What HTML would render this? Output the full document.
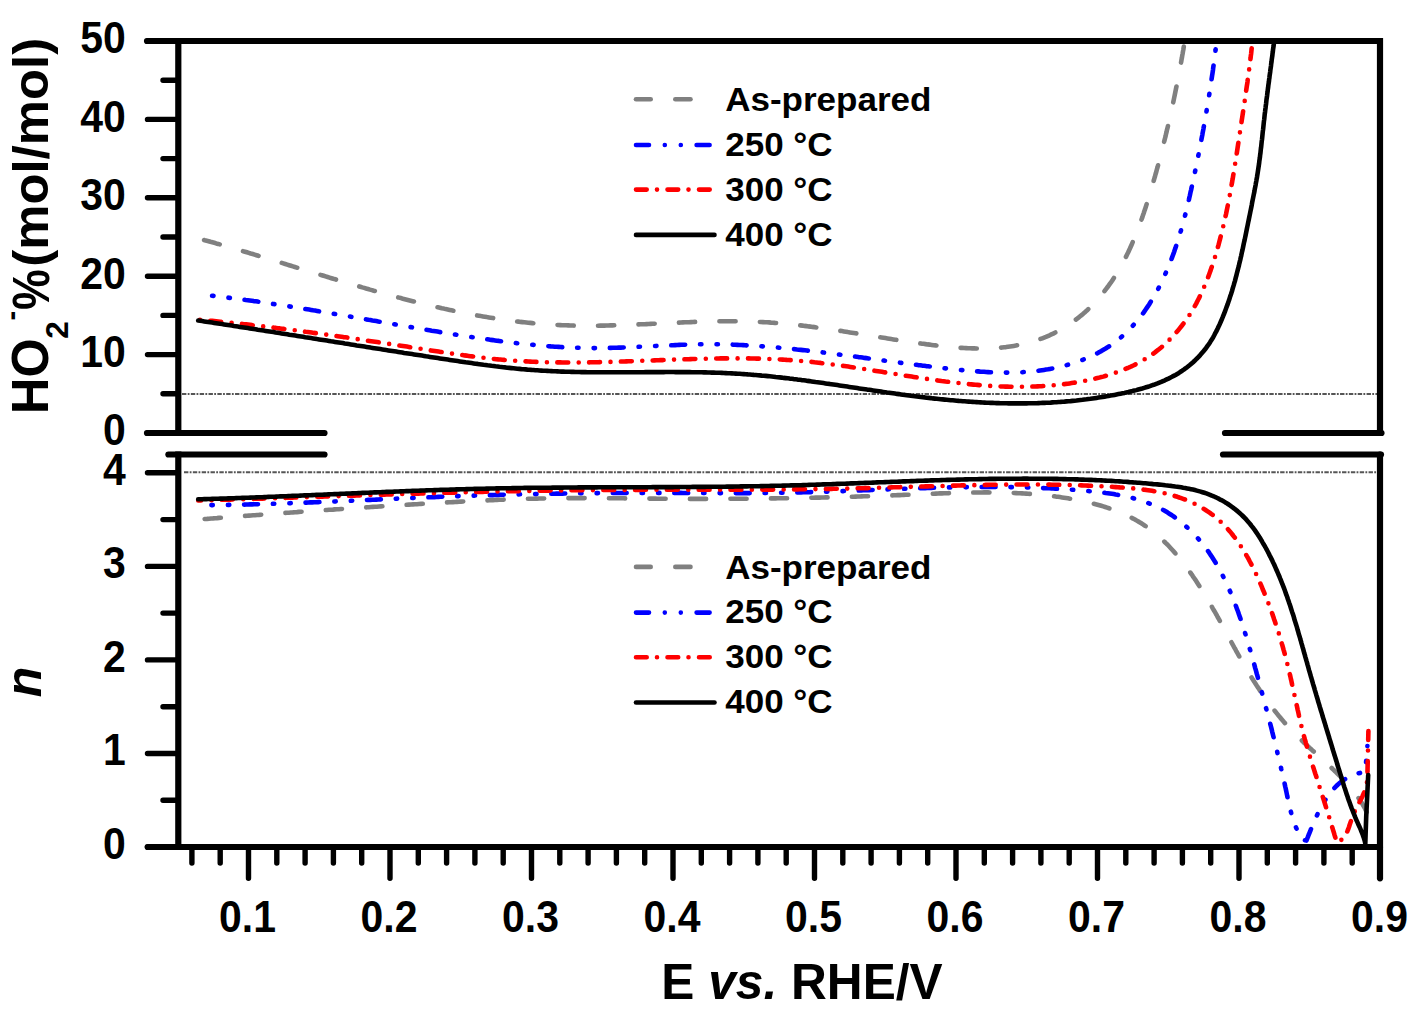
<!DOCTYPE html>
<html><head><meta charset="utf-8"><title>HO2- and n vs E</title>
<style>html,body{margin:0;padding:0;background:#fff;}body{width:1425px;height:1019px;overflow:hidden;font-family:"Liberation Sans",sans-serif;}svg{display:block;}</style>
</head><body>
<svg width="1425" height="1019" viewBox="0 0 1425 1019"><defs><clipPath id="ct"><rect x="178.3" y="41.0" width="1201.7" height="392.0"/></clipPath>
<clipPath id="cb"><rect x="178.3" y="454.5" width="1201.7" height="392.5"/></clipPath></defs>
<line x1="182" y1="393.9" x2="1377" y2="393.9" stroke="#555" stroke-width="2" stroke-dasharray="4.4 1.3 1.8 1.34"/>
<line x1="184" y1="472.2" x2="1377" y2="472.2" stroke="#555" stroke-width="2" stroke-dasharray="4.4 1.3 1.8 1.34"/>
<g clip-path="url(#ct)">
<path d="M199.0 238.6 L200.9 239.1 L202.8 239.6 L204.7 240.2 L206.7 240.7 L208.6 241.2 L210.5 241.8 L212.4 242.3 L214.3 242.8 L216.2 243.4 L218.2 243.9 L220.1 244.5 L222.0 245.0 L223.9 245.6 L225.8 246.1 L227.7 246.7 L229.7 247.2 L231.6 247.8 L233.5 248.4 L235.4 248.9 L237.3 249.5 L239.2 250.0 L241.2 250.6 L243.1 251.2 L245.0 251.7 L246.9 252.3 L248.8 252.9 L250.7 253.5 L252.7 254.0 L254.6 254.6 L256.5 255.2 L258.4 255.8 L260.3 256.4 L262.2 256.9 L264.2 257.5 L266.1 258.1 L268.0 258.7 L269.9 259.3 L271.8 259.9 L273.8 260.5 L275.7 261.1 L277.6 261.6 L279.5 262.2 L281.4 262.8 L283.3 263.4 L285.3 264.0 L287.2 264.6 L289.1 265.2 L291.0 265.8 L292.9 266.4 L294.9 267.0 L296.8 267.6 L298.7 268.1 L300.6 268.7 L302.6 269.3 L304.5 269.9 L306.4 270.5 L308.3 271.1 L310.2 271.7 L312.2 272.3 L314.1 272.9 L316.0 273.5 L317.9 274.1 L319.9 274.7 L321.8 275.2 L323.7 275.8 L325.6 276.4 L327.6 277.0 L329.5 277.6 L331.4 278.2 L333.3 278.8 L335.3 279.3 L337.2 279.9 L339.1 280.5 L341.0 281.1 L343.0 281.7 L344.9 282.2 L346.8 282.8 L348.7 283.4 L350.7 284.0 L352.6 284.5 L354.5 285.1 L356.5 285.7 L358.4 286.2 L360.3 286.8 L362.3 287.4 L364.2 287.9 L366.1 288.5 L368.0 289.0 L370.0 289.6 L371.9 290.1 L373.8 290.7 L375.8 291.2 L377.7 291.8 L379.7 292.3 L381.6 292.9 L383.5 293.4 L385.5 293.9 L387.4 294.5 L389.3 295.0 L391.3 295.5 L393.2 296.1 L395.1 296.6 L397.1 297.1 L399.0 297.6 L401.0 298.1 L402.9 298.7 L404.8 299.2 L406.8 299.7 L408.7 300.2 L410.7 300.7 L412.6 301.2 L414.6 301.7 L416.5 302.2 L418.4 302.6 L420.4 303.1 L422.3 303.6 L424.3 304.1 L426.2 304.5 L428.2 305.0 L430.1 305.5 L432.1 305.9 L434.0 306.4 L436.0 306.9 L437.9 307.3 L439.9 307.7 L441.8 308.2 L443.8 308.6 L445.7 309.1 L447.7 309.5 L449.6 309.9 L451.6 310.3 L453.5 310.7 L455.5 311.2 L457.4 311.6 L459.4 312.0 L461.4 312.4 L463.3 312.8 L465.3 313.1 L467.2 313.5 L469.2 313.9 L471.2 314.3 L473.1 314.6 L475.1 315.0 L477.0 315.4 L479.0 315.7 L481.0 316.1 L482.9 316.4 L484.9 316.7 L486.9 317.1 L488.8 317.4 L490.8 317.7 L492.8 318.0 L494.7 318.4 L496.7 318.7 L498.7 319.0 L500.7 319.3 L502.6 319.5 L504.6 319.8 L506.6 320.1 L508.6 320.4 L510.5 320.6 L512.5 320.9 L514.5 321.1 L516.5 321.4 L518.4 321.6 L520.4 321.9 L522.4 322.1 L524.4 322.3 L526.4 322.5 L528.3 322.7 L530.3 322.9 L532.3 323.1 L534.3 323.3 L536.3 323.5 L538.3 323.7 L540.3 323.8 L542.2 324.0 L544.2 324.1 L546.2 324.3 L548.2 324.4 L550.2 324.6 L552.2 324.7 L554.2 324.8 L556.2 324.9 L558.2 325.0 L560.2 325.1 L562.2 325.2 L564.2 325.3 L566.2 325.3 L568.2 325.4 L570.2 325.5 L572.2 325.5 L574.2 325.6 L576.2 325.6 L578.2 325.6 L580.2 325.7 L582.2 325.7 L584.2 325.7 L586.2 325.7 L588.2 325.7 L590.2 325.7 L592.2 325.7 L594.2 325.7 L596.3 325.7 L598.3 325.7 L600.3 325.6 L602.3 325.6 L604.3 325.6 L606.3 325.5 L608.3 325.5 L610.3 325.4 L612.4 325.4 L614.4 325.3 L616.4 325.3 L618.4 325.2 L620.4 325.1 L622.4 325.1 L624.4 325.0 L626.5 324.9 L628.5 324.8 L630.5 324.8 L632.5 324.7 L634.5 324.6 L636.5 324.5 L638.6 324.4 L640.6 324.3 L642.6 324.3 L644.6 324.2 L646.6 324.1 L648.6 324.0 L650.7 323.9 L652.7 323.8 L654.7 323.7 L656.7 323.6 L658.7 323.5 L660.8 323.4 L662.8 323.3 L664.8 323.2 L666.8 323.1 L668.8 323.0 L670.8 322.9 L672.9 322.8 L674.9 322.8 L676.9 322.7 L678.9 322.6 L680.9 322.5 L682.9 322.4 L684.9 322.3 L687.0 322.2 L689.0 322.2 L691.0 322.1 L693.0 322.0 L695.0 321.9 L697.0 321.9 L699.0 321.8 L701.0 321.7 L703.1 321.7 L705.1 321.6 L707.1 321.6 L709.1 321.5 L711.1 321.5 L713.1 321.4 L715.1 321.4 L717.1 321.3 L719.1 321.3 L721.1 321.3 L723.1 321.3 L725.1 321.3 L727.1 321.2 L729.1 321.2 L731.1 321.2 L733.1 321.2 L735.1 321.3 L737.1 321.3 L739.1 321.3 L741.1 321.3 L743.1 321.4 L745.1 321.4 L747.1 321.4 L749.1 321.5 L751.1 321.6 L753.1 321.6 L755.1 321.7 L757.1 321.8 L759.1 321.9 L761.0 322.0 L763.0 322.1 L765.0 322.2 L767.0 322.3 L769.0 322.4 L771.0 322.6 L772.9 322.7 L774.9 322.9 L776.9 323.0 L778.9 323.2 L780.8 323.4 L782.8 323.5 L784.8 323.7 L786.8 323.9 L788.7 324.1 L790.7 324.3 L792.7 324.5 L794.7 324.7 L796.6 324.9 L798.6 325.2 L800.6 325.4 L802.5 325.6 L804.5 325.9 L806.5 326.1 L808.5 326.4 L810.4 326.6 L812.4 326.9 L814.4 327.1 L816.3 327.4 L818.3 327.7 L820.3 327.9 L822.2 328.2 L824.2 328.5 L826.2 328.8 L828.1 329.1 L830.1 329.3 L832.1 329.6 L834.1 329.9 L836.0 330.2 L838.0 330.5 L840.0 330.8 L841.9 331.1 L843.9 331.4 L845.9 331.7 L847.8 332.1 L849.8 332.4 L851.8 332.7 L853.8 333.0 L855.7 333.3 L857.7 333.6 L859.7 333.9 L861.7 334.3 L863.6 334.6 L865.6 334.9 L867.6 335.2 L869.6 335.5 L871.6 335.9 L873.5 336.2 L875.5 336.5 L877.5 336.8 L879.5 337.2 L881.5 337.5 L883.5 337.8 L885.5 338.1 L887.5 338.4 L889.4 338.7 L891.4 339.1 L893.4 339.4 L895.4 339.7 L897.4 340.0 L899.4 340.3 L901.4 340.6 L903.4 340.9 L905.4 341.2 L907.4 341.5 L909.4 341.8 L911.4 342.1 L913.5 342.4 L915.5 342.7 L917.5 343.0 L919.5 343.3 L921.5 343.6 L923.5 343.8 L925.6 344.1 L927.6 344.4 L929.6 344.6 L931.6 344.9 L933.7 345.2 L935.7 345.4 L937.7 345.6 L939.7 345.9 L941.8 346.1 L943.8 346.3 L945.8 346.5 L947.9 346.7 L949.9 346.9 L951.9 347.1 L954.0 347.3 L956.0 347.5 L958.0 347.6 L960.0 347.8 L962.1 347.9 L964.1 348.0 L966.1 348.1 L968.1 348.2 L970.1 348.3 L972.2 348.4 L974.2 348.4 L976.2 348.5 L978.2 348.5 L980.2 348.5 L982.2 348.5 L984.2 348.5 L986.2 348.4 L988.2 348.4 L990.2 348.3 L992.2 348.2 L994.2 348.1 L996.2 348.0 L998.2 347.8 L1000.1 347.7 L1002.1 347.5 L1004.1 347.3 L1006.0 347.1 L1008.0 346.8 L1010.0 346.5 L1011.9 346.2 L1013.8 345.9 L1015.8 345.6 L1017.7 345.2 L1019.6 344.9 L1021.6 344.5 L1023.5 344.0 L1025.4 343.6 L1027.3 343.1 L1029.2 342.6 L1031.1 342.1 L1033.0 341.5 L1034.8 340.9 L1036.7 340.3 L1038.6 339.7 L1040.4 339.0 L1042.3 338.3 L1044.1 337.6 L1045.9 336.9 L1047.8 336.1 L1049.6 335.3 L1051.4 334.4 L1053.2 333.6 L1054.9 332.7 L1056.7 331.8 L1058.5 330.8 L1060.2 329.9 L1062.0 328.9 L1063.7 327.9 L1065.4 326.8 L1067.1 325.8 L1068.8 324.7 L1070.4 323.6 L1072.1 322.4 L1073.7 321.2 L1075.3 320.1 L1076.9 318.8 L1078.5 317.6 L1080.1 316.3 L1081.6 315.1 L1083.2 313.8 L1084.7 312.4 L1086.2 311.1 L1087.7 309.7 L1089.1 308.3 L1090.6 306.9 L1092.0 305.5 L1093.4 304.0 L1094.8 302.6 L1096.2 301.1 L1097.5 299.6 L1098.8 298.1 L1100.1 296.5 L1101.4 295.0 L1102.7 293.4 L1104.0 291.8 L1105.2 290.2 L1106.4 288.6 L1107.6 287.0 L1108.8 285.4 L1110.0 283.7 L1111.2 282.1 L1112.3 280.4 L1113.4 278.7 L1114.5 277.0 L1115.6 275.3 L1116.6 273.6 L1117.7 271.9 L1118.7 270.2 L1119.7 268.5 L1120.7 266.7 L1121.7 265.0 L1122.6 263.2 L1123.6 261.4 L1124.5 259.7 L1125.4 257.9 L1126.3 256.1 L1127.2 254.3 L1128.1 252.5 L1128.9 250.7 L1129.8 248.8 L1130.6 247.0 L1131.4 245.2 L1132.2 243.3 L1133.0 241.5 L1133.8 239.6 L1134.6 237.8 L1135.3 235.9 L1136.1 234.1 L1136.8 232.2 L1137.6 230.3 L1138.3 228.4 L1139.0 226.5 L1139.7 224.6 L1140.4 222.8 L1141.0 220.9 L1141.7 219.0 L1142.4 217.1 L1143.0 215.1 L1143.7 213.2 L1144.3 211.3 L1145.0 209.4 L1145.6 207.5 L1146.2 205.6 L1146.8 203.7 L1147.4 201.7 L1148.0 199.8 L1148.6 197.9 L1149.2 196.0 L1149.8 194.0 L1150.4 192.1 L1151.0 190.2 L1151.5 188.2 L1152.1 186.3 L1152.7 184.4 L1153.2 182.5 L1153.8 180.5 L1154.3 178.6 L1154.9 176.7 L1155.4 174.7 L1156.0 172.8 L1156.5 170.9 L1157.0 169.0 L1157.6 167.0 L1158.1 165.1 L1158.6 163.2 L1159.1 161.2 L1159.7 159.3 L1160.2 157.4 L1160.7 155.4 L1161.2 153.5 L1161.7 151.6 L1162.2 149.6 L1162.7 147.7 L1163.2 145.8 L1163.6 143.8 L1164.1 141.9 L1164.6 139.9 L1165.1 138.0 L1165.6 136.1 L1166.0 134.1 L1166.5 132.2 L1166.9 130.2 L1167.4 128.3 L1167.9 126.4 L1168.3 124.4 L1168.8 122.5 L1169.2 120.5 L1169.7 118.6 L1170.1 116.6 L1170.5 114.7 L1171.0 112.7 L1171.4 110.8 L1171.8 108.9 L1172.2 106.9 L1172.7 104.9 L1173.1 103.0 L1173.5 101.0 L1173.9 99.1 L1174.3 97.1 L1174.7 95.2 L1175.1 93.2 L1175.5 91.3 L1175.9 89.3 L1176.3 87.3 L1176.7 85.4 L1177.1 83.4 L1177.5 81.5 L1177.9 79.5 L1178.2 77.5 L1178.6 75.6 L1179.0 73.6 L1179.4 71.6 L1179.7 69.7 L1180.1 67.7 L1180.5 65.7 L1180.8 63.8 L1181.2 61.8 L1181.5 59.8 L1181.9 57.8 L1182.2 55.8 L1182.6 53.9 L1182.9 51.9 L1183.3 49.9 L1183.6 47.9 L1183.9 45.9 L1184.3 44.0 L1184.6 42.0 L1184.9 40.0 L1185.3 38.0 L1185.6 36.0" stroke="#808080" stroke-width="4.6" fill="none" stroke-linecap="round" stroke-linejoin="round" stroke-dasharray="16.2 24.3" stroke-dashoffset="-5.3"/>
<path d="M198.0 294.2 L200.0 294.4 L202.0 294.6 L204.0 294.8 L206.0 295.0 L208.0 295.3 L210.0 295.5 L212.0 295.7 L214.0 295.9 L215.9 296.2 L217.9 296.4 L219.9 296.6 L221.9 296.9 L223.9 297.1 L225.9 297.4 L227.9 297.6 L229.9 297.9 L231.9 298.1 L233.8 298.4 L235.8 298.6 L237.8 298.9 L239.8 299.1 L241.8 299.4 L243.8 299.7 L245.8 300.0 L247.8 300.2 L249.7 300.5 L251.7 300.8 L253.7 301.1 L255.7 301.3 L257.7 301.6 L259.7 301.9 L261.6 302.2 L263.6 302.5 L265.6 302.8 L267.6 303.1 L269.6 303.4 L271.6 303.7 L273.5 304.0 L275.5 304.3 L277.5 304.6 L279.5 304.9 L281.5 305.2 L283.4 305.5 L285.4 305.8 L287.4 306.1 L289.4 306.4 L291.4 306.7 L293.3 307.0 L295.3 307.4 L297.3 307.7 L299.3 308.0 L301.2 308.3 L303.2 308.6 L305.2 309.0 L307.2 309.3 L309.2 309.6 L311.1 309.9 L313.1 310.3 L315.1 310.6 L317.1 310.9 L319.0 311.3 L321.0 311.6 L323.0 311.9 L325.0 312.3 L326.9 312.6 L328.9 312.9 L330.9 313.3 L332.9 313.6 L334.8 313.9 L336.8 314.3 L338.8 314.6 L340.8 315.0 L342.7 315.3 L344.7 315.6 L346.7 316.0 L348.7 316.3 L350.6 316.7 L352.6 317.0 L354.6 317.4 L356.6 317.7 L358.5 318.0 L360.5 318.4 L362.5 318.7 L364.5 319.1 L366.4 319.4 L368.4 319.8 L370.4 320.1 L372.4 320.5 L374.3 320.8 L376.3 321.1 L378.3 321.5 L380.2 321.8 L382.2 322.2 L384.2 322.5 L386.2 322.9 L388.1 323.2 L390.1 323.6 L392.1 323.9 L394.1 324.2 L396.0 324.6 L398.0 324.9 L400.0 325.3 L402.0 325.6 L403.9 326.0 L405.9 326.3 L407.9 326.6 L409.9 327.0 L411.8 327.3 L413.8 327.7 L415.8 328.0 L417.8 328.3 L419.7 328.7 L421.7 329.0 L423.7 329.3 L425.7 329.7 L427.6 330.0 L429.6 330.3 L431.6 330.7 L433.6 331.0 L435.6 331.3 L437.5 331.6 L439.5 332.0 L441.5 332.3 L443.5 332.6 L445.4 332.9 L447.4 333.2 L449.4 333.6 L451.4 333.9 L453.4 334.2 L455.3 334.5 L457.3 334.8 L459.3 335.1 L461.3 335.4 L463.2 335.8 L465.2 336.1 L467.2 336.4 L469.2 336.7 L471.2 337.0 L473.1 337.3 L475.1 337.6 L477.1 337.9 L479.1 338.2 L481.1 338.4 L483.1 338.7 L485.0 339.0 L487.0 339.3 L489.0 339.6 L491.0 339.9 L493.0 340.1 L495.0 340.4 L496.9 340.7 L498.9 340.9 L500.9 341.2 L502.9 341.4 L504.9 341.7 L506.9 342.0 L508.9 342.2 L510.8 342.4 L512.8 342.7 L514.8 342.9 L516.8 343.2 L518.8 343.4 L520.8 343.6 L522.8 343.8 L524.8 344.0 L526.8 344.2 L528.8 344.4 L530.7 344.7 L532.7 344.8 L534.7 345.0 L536.7 345.2 L538.7 345.4 L540.7 345.6 L542.7 345.8 L544.7 345.9 L546.7 346.1 L548.7 346.2 L550.7 346.4 L552.7 346.5 L554.7 346.7 L556.7 346.8 L558.7 346.9 L560.7 347.0 L562.7 347.2 L564.7 347.3 L566.7 347.4 L568.7 347.5 L570.7 347.6 L572.7 347.6 L574.7 347.7 L576.7 347.8 L578.7 347.8 L580.7 347.9 L582.7 347.9 L584.7 348.0 L586.7 348.0 L588.7 348.0 L590.7 348.1 L592.7 348.1 L594.7 348.1 L596.7 348.1 L598.7 348.1 L600.7 348.0 L602.7 348.0 L604.7 348.0 L606.7 348.0 L608.8 347.9 L610.8 347.9 L612.8 347.8 L614.8 347.8 L616.8 347.7 L618.8 347.6 L620.8 347.6 L622.8 347.5 L624.8 347.4 L626.9 347.3 L628.9 347.3 L630.9 347.2 L632.9 347.1 L634.9 347.0 L636.9 346.9 L638.9 346.8 L640.9 346.7 L643.0 346.6 L645.0 346.5 L647.0 346.4 L649.0 346.3 L651.0 346.2 L653.0 346.1 L655.0 346.0 L657.0 345.9 L659.1 345.8 L661.1 345.7 L663.1 345.6 L665.1 345.5 L667.1 345.4 L669.1 345.3 L671.1 345.3 L673.1 345.2 L675.2 345.1 L677.2 345.0 L679.2 344.9 L681.2 344.8 L683.2 344.8 L685.2 344.7 L687.2 344.6 L689.2 344.6 L691.2 344.5 L693.2 344.5 L695.2 344.4 L697.2 344.4 L699.3 344.3 L701.3 344.3 L703.3 344.3 L705.3 344.3 L707.3 344.3 L709.3 344.3 L711.3 344.3 L713.3 344.3 L715.3 344.3 L717.3 344.3 L719.3 344.3 L721.3 344.4 L723.3 344.4 L725.3 344.5 L727.3 344.5 L729.3 344.6 L731.3 344.6 L733.3 344.7 L735.3 344.8 L737.3 344.9 L739.3 345.0 L741.3 345.0 L743.2 345.1 L745.2 345.2 L747.2 345.4 L749.2 345.5 L751.2 345.6 L753.2 345.7 L755.2 345.8 L757.2 346.0 L759.2 346.1 L761.2 346.2 L763.2 346.4 L765.2 346.5 L767.1 346.7 L769.1 346.8 L771.1 347.0 L773.1 347.2 L775.1 347.3 L777.1 347.5 L779.1 347.7 L781.1 347.9 L783.1 348.1 L785.0 348.2 L787.0 348.4 L789.0 348.6 L791.0 348.8 L793.0 349.0 L795.0 349.2 L797.0 349.5 L798.9 349.7 L800.9 349.9 L802.9 350.1 L804.9 350.3 L806.9 350.5 L808.9 350.8 L810.9 351.0 L812.8 351.2 L814.8 351.5 L816.8 351.7 L818.8 351.9 L820.8 352.2 L822.8 352.4 L824.8 352.7 L826.7 352.9 L828.7 353.2 L830.7 353.4 L832.7 353.7 L834.7 353.9 L836.7 354.2 L838.6 354.4 L840.6 354.7 L842.6 354.9 L844.6 355.2 L846.6 355.5 L848.6 355.7 L850.5 356.0 L852.5 356.3 L854.5 356.5 L856.5 356.8 L858.5 357.1 L860.5 357.3 L862.5 357.6 L864.4 357.9 L866.4 358.1 L868.4 358.4 L870.4 358.7 L872.4 359.0 L874.4 359.2 L876.4 359.5 L878.3 359.8 L880.3 360.0 L882.3 360.3 L884.3 360.6 L886.3 360.9 L888.3 361.1 L890.3 361.4 L892.2 361.7 L894.2 361.9 L896.2 362.2 L898.2 362.5 L900.2 362.7 L902.2 363.0 L904.2 363.3 L906.2 363.5 L908.2 363.8 L910.2 364.0 L912.1 364.3 L914.1 364.6 L916.1 364.8 L918.1 365.1 L920.1 365.3 L922.1 365.6 L924.1 365.8 L926.1 366.1 L928.1 366.3 L930.1 366.5 L932.1 366.8 L934.1 367.0 L936.1 367.3 L938.1 367.5 L940.1 367.7 L942.0 368.0 L944.0 368.2 L946.0 368.4 L948.0 368.6 L950.0 368.8 L952.0 369.1 L954.0 369.3 L956.0 369.5 L958.0 369.7 L960.0 369.9 L962.0 370.1 L964.0 370.3 L966.0 370.5 L968.1 370.6 L970.1 370.8 L972.1 371.0 L974.1 371.1 L976.1 371.3 L978.1 371.4 L980.1 371.6 L982.1 371.7 L984.1 371.8 L986.1 372.0 L988.1 372.1 L990.1 372.2 L992.1 372.3 L994.1 372.3 L996.1 372.4 L998.1 372.5 L1000.1 372.5 L1002.1 372.5 L1004.1 372.6 L1006.1 372.6 L1008.1 372.6 L1010.1 372.5 L1012.1 372.5 L1014.1 372.5 L1016.1 372.4 L1018.1 372.3 L1020.1 372.3 L1022.1 372.2 L1024.1 372.0 L1026.1 371.9 L1028.1 371.8 L1030.1 371.6 L1032.1 371.4 L1034.1 371.2 L1036.1 371.0 L1038.0 370.8 L1040.0 370.5 L1042.0 370.2 L1044.0 369.9 L1046.0 369.6 L1048.0 369.3 L1050.0 368.9 L1051.9 368.6 L1053.9 368.2 L1055.9 367.8 L1057.9 367.3 L1059.8 366.9 L1061.8 366.4 L1063.8 365.9 L1065.7 365.4 L1067.7 364.8 L1069.7 364.3 L1071.6 363.7 L1073.5 363.1 L1075.5 362.4 L1077.4 361.8 L1079.3 361.1 L1081.2 360.4 L1083.1 359.7 L1085.0 358.9 L1086.8 358.1 L1088.7 357.3 L1090.5 356.5 L1092.4 355.7 L1094.2 354.8 L1096.0 353.9 L1097.8 353.0 L1099.5 352.0 L1101.3 351.1 L1103.0 350.1 L1104.7 349.1 L1106.4 348.0 L1108.1 346.9 L1109.8 345.9 L1111.4 344.7 L1113.0 343.6 L1114.6 342.4 L1116.2 341.2 L1117.7 340.0 L1119.3 338.8 L1120.8 337.5 L1122.2 336.2 L1123.7 334.9 L1125.2 333.6 L1126.6 332.2 L1128.0 330.8 L1129.4 329.4 L1130.8 328.0 L1132.1 326.6 L1133.4 325.1 L1134.7 323.6 L1136.0 322.1 L1137.3 320.6 L1138.6 319.1 L1139.8 317.5 L1141.0 315.9 L1142.2 314.4 L1143.4 312.8 L1144.6 311.1 L1145.7 309.5 L1146.8 307.9 L1148.0 306.2 L1149.1 304.5 L1150.1 302.8 L1151.2 301.1 L1152.2 299.4 L1153.3 297.7 L1154.3 295.9 L1155.3 294.2 L1156.3 292.4 L1157.2 290.6 L1158.2 288.9 L1159.1 287.1 L1160.0 285.3 L1160.9 283.5 L1161.8 281.6 L1162.7 279.8 L1163.6 278.0 L1164.4 276.1 L1165.2 274.3 L1166.0 272.4 L1166.8 270.6 L1167.6 268.7 L1168.4 266.8 L1169.2 264.9 L1169.9 263.1 L1170.7 261.2 L1171.4 259.3 L1172.1 257.4 L1172.8 255.5 L1173.5 253.6 L1174.2 251.7 L1174.8 249.8 L1175.5 247.9 L1176.1 246.0 L1176.7 244.1 L1177.4 242.2 L1178.0 240.3 L1178.6 238.4 L1179.2 236.4 L1179.7 234.5 L1180.3 232.6 L1180.9 230.7 L1181.4 228.8 L1182.0 226.8 L1182.5 224.9 L1183.0 223.0 L1183.6 221.1 L1184.1 219.1 L1184.6 217.2 L1185.1 215.3 L1185.6 213.3 L1186.1 211.4 L1186.5 209.4 L1187.0 207.5 L1187.5 205.6 L1187.9 203.6 L1188.4 201.7 L1188.9 199.7 L1189.3 197.8 L1189.8 195.8 L1190.2 193.9 L1190.6 191.9 L1191.1 190.0 L1191.5 188.0 L1191.9 186.1 L1192.4 184.1 L1192.8 182.2 L1193.2 180.2 L1193.6 178.3 L1194.0 176.3 L1194.4 174.3 L1194.9 172.4 L1195.3 170.4 L1195.7 168.5 L1196.1 166.5 L1196.5 164.5 L1196.9 162.6 L1197.3 160.6 L1197.7 158.7 L1198.1 156.7 L1198.5 154.7 L1198.9 152.8 L1199.3 150.8 L1199.6 148.8 L1200.0 146.9 L1200.4 144.9 L1200.8 142.9 L1201.2 141.0 L1201.5 139.0 L1201.9 137.0 L1202.3 135.1 L1202.6 133.1 L1203.0 131.1 L1203.4 129.1 L1203.7 127.2 L1204.1 125.2 L1204.4 123.2 L1204.8 121.3 L1205.1 119.3 L1205.5 117.3 L1205.8 115.3 L1206.2 113.4 L1206.5 111.4 L1206.8 109.4 L1207.2 107.4 L1207.5 105.4 L1207.8 103.5 L1208.2 101.5 L1208.5 99.5 L1208.8 97.5 L1209.1 95.6 L1209.4 93.6 L1209.7 91.6 L1210.0 89.6 L1210.3 87.6 L1210.7 85.6 L1211.0 83.7 L1211.2 81.7 L1211.5 79.7 L1211.8 77.7 L1212.1 75.7 L1212.4 73.8 L1212.7 71.8 L1213.0 69.8 L1213.2 67.8 L1213.5 65.8 L1213.8 63.8 L1214.0 61.8 L1214.3 59.9 L1214.6 57.9 L1214.8 55.9 L1215.1 53.9 L1215.3 51.9 L1215.6 49.9 L1215.8 47.9 L1216.0 45.9 L1216.3 44.0 L1216.5 42.0 L1216.7 40.0 L1217.0 38.0 L1217.2 36.0" stroke="#0000ff" stroke-width="4.6" fill="none" stroke-linecap="round" stroke-linejoin="round" stroke-dasharray="13.9 14.9 1.4 15.1 1.4 14.8" stroke-dashoffset="14.6"/>
<path d="M198.2 319.6 L200.2 319.8 L202.2 320.0 L204.2 320.1 L206.2 320.3 L208.2 320.5 L210.2 320.7 L212.2 320.9 L214.2 321.1 L216.2 321.3 L218.2 321.5 L220.2 321.7 L222.2 321.9 L224.2 322.1 L226.2 322.3 L228.2 322.5 L230.2 322.7 L232.2 322.9 L234.1 323.1 L236.1 323.3 L238.1 323.5 L240.1 323.7 L242.1 323.9 L244.1 324.2 L246.1 324.4 L248.1 324.6 L250.1 324.8 L252.1 325.1 L254.1 325.3 L256.1 325.5 L258.0 325.8 L260.0 326.0 L262.0 326.2 L264.0 326.5 L266.0 326.7 L268.0 326.9 L270.0 327.2 L272.0 327.4 L274.0 327.7 L275.9 327.9 L277.9 328.2 L279.9 328.4 L281.9 328.7 L283.9 328.9 L285.9 329.2 L287.9 329.4 L289.9 329.7 L291.8 329.9 L293.8 330.2 L295.8 330.4 L297.8 330.7 L299.8 331.0 L301.8 331.2 L303.8 331.5 L305.7 331.8 L307.7 332.0 L309.7 332.3 L311.7 332.6 L313.7 332.9 L315.7 333.1 L317.6 333.4 L319.6 333.7 L321.6 333.9 L323.6 334.2 L325.6 334.5 L327.6 334.8 L329.5 335.1 L331.5 335.3 L333.5 335.6 L335.5 335.9 L337.5 336.2 L339.5 336.5 L341.4 336.8 L343.4 337.1 L345.4 337.3 L347.4 337.6 L349.4 337.9 L351.4 338.2 L353.3 338.5 L355.3 338.8 L357.3 339.1 L359.3 339.4 L361.3 339.7 L363.2 340.0 L365.2 340.3 L367.2 340.6 L369.2 340.9 L371.2 341.2 L373.2 341.5 L375.1 341.8 L377.1 342.1 L379.1 342.4 L381.1 342.7 L383.1 343.0 L385.1 343.3 L387.0 343.6 L389.0 343.9 L391.0 344.2 L393.0 344.5 L395.0 344.8 L397.0 345.1 L398.9 345.4 L400.9 345.7 L402.9 346.0 L404.9 346.3 L406.9 346.6 L408.9 346.9 L410.8 347.3 L412.8 347.6 L414.8 347.9 L416.8 348.2 L418.8 348.5 L420.8 348.8 L422.7 349.1 L424.7 349.4 L426.7 349.7 L428.7 350.0 L430.7 350.4 L432.7 350.7 L434.7 351.0 L436.6 351.3 L438.6 351.6 L440.6 351.9 L442.6 352.2 L444.6 352.5 L446.6 352.8 L448.6 353.1 L450.6 353.4 L452.5 353.7 L454.5 354.0 L456.5 354.2 L458.5 354.5 L460.5 354.8 L462.5 355.1 L464.5 355.4 L466.5 355.6 L468.5 355.9 L470.4 356.2 L472.4 356.4 L474.4 356.7 L476.4 356.9 L478.4 357.2 L480.4 357.4 L482.4 357.7 L484.4 357.9 L486.4 358.1 L488.4 358.3 L490.4 358.6 L492.3 358.8 L494.3 359.0 L496.3 359.2 L498.3 359.4 L500.3 359.5 L502.3 359.7 L504.3 359.9 L506.3 360.1 L508.3 360.2 L510.3 360.4 L512.3 360.5 L514.3 360.7 L516.3 360.8 L518.3 360.9 L520.3 361.1 L522.3 361.2 L524.3 361.3 L526.3 361.4 L528.3 361.5 L530.2 361.6 L532.2 361.7 L534.2 361.8 L536.2 361.9 L538.2 361.9 L540.2 362.0 L542.2 362.1 L544.2 362.1 L546.2 362.2 L548.2 362.2 L550.2 362.3 L552.2 362.3 L554.2 362.4 L556.2 362.4 L558.2 362.4 L560.2 362.4 L562.2 362.5 L564.2 362.5 L566.2 362.5 L568.2 362.5 L570.2 362.5 L572.2 362.5 L574.2 362.5 L576.2 362.5 L578.2 362.5 L580.2 362.5 L582.3 362.4 L584.3 362.4 L586.3 362.4 L588.3 362.4 L590.3 362.3 L592.3 362.3 L594.3 362.3 L596.3 362.2 L598.3 362.2 L600.3 362.1 L602.3 362.1 L604.3 362.1 L606.3 362.0 L608.3 362.0 L610.3 361.9 L612.3 361.8 L614.3 361.8 L616.3 361.7 L618.3 361.7 L620.3 361.6 L622.3 361.5 L624.3 361.5 L626.4 361.4 L628.4 361.3 L630.4 361.3 L632.4 361.2 L634.4 361.1 L636.4 361.1 L638.4 361.0 L640.4 360.9 L642.4 360.8 L644.4 360.8 L646.4 360.7 L648.4 360.6 L650.4 360.5 L652.4 360.5 L654.5 360.4 L656.5 360.3 L658.5 360.2 L660.5 360.1 L662.5 360.1 L664.5 360.0 L666.5 359.9 L668.5 359.8 L670.5 359.8 L672.5 359.7 L674.5 359.6 L676.5 359.6 L678.5 359.5 L680.5 359.4 L682.6 359.4 L684.6 359.3 L686.6 359.2 L688.6 359.2 L690.6 359.1 L692.6 359.0 L694.6 359.0 L696.6 358.9 L698.6 358.9 L700.6 358.8 L702.6 358.8 L704.6 358.7 L706.6 358.7 L708.6 358.6 L710.6 358.6 L712.6 358.6 L714.7 358.5 L716.7 358.5 L718.7 358.5 L720.7 358.4 L722.7 358.4 L724.7 358.4 L726.7 358.4 L728.7 358.4 L730.7 358.4 L732.7 358.4 L734.7 358.3 L736.7 358.4 L738.7 358.4 L740.7 358.4 L742.7 358.4 L744.7 358.4 L746.7 358.4 L748.7 358.4 L750.7 358.5 L752.7 358.5 L754.7 358.5 L756.7 358.6 L758.7 358.6 L760.7 358.7 L762.7 358.7 L764.7 358.8 L766.7 358.9 L768.7 359.0 L770.7 359.0 L772.7 359.1 L774.7 359.2 L776.7 359.3 L778.7 359.4 L780.7 359.5 L782.7 359.6 L784.7 359.7 L786.7 359.9 L788.7 360.0 L790.7 360.1 L792.6 360.3 L794.6 360.4 L796.6 360.6 L798.6 360.7 L800.6 360.9 L802.6 361.1 L804.6 361.3 L806.6 361.4 L808.6 361.6 L810.6 361.8 L812.5 362.0 L814.5 362.3 L816.5 362.5 L818.5 362.7 L820.5 362.9 L822.5 363.2 L824.5 363.4 L826.5 363.6 L828.4 363.9 L830.4 364.1 L832.4 364.4 L834.4 364.7 L836.4 364.9 L838.4 365.2 L840.4 365.5 L842.3 365.8 L844.3 366.0 L846.3 366.3 L848.3 366.6 L850.3 366.9 L852.3 367.2 L854.2 367.5 L856.2 367.8 L858.2 368.1 L860.2 368.4 L862.2 368.7 L864.1 369.0 L866.1 369.3 L868.1 369.6 L870.1 369.9 L872.1 370.2 L874.1 370.6 L876.0 370.9 L878.0 371.2 L880.0 371.5 L882.0 371.8 L884.0 372.2 L885.9 372.5 L887.9 372.8 L889.9 373.1 L891.9 373.4 L893.9 373.8 L895.9 374.1 L897.8 374.4 L899.8 374.7 L901.8 375.0 L903.8 375.3 L905.8 375.7 L907.8 376.0 L909.7 376.3 L911.7 376.6 L913.7 376.9 L915.7 377.2 L917.7 377.5 L919.7 377.8 L921.6 378.1 L923.6 378.4 L925.6 378.7 L927.6 379.0 L929.6 379.3 L931.6 379.6 L933.6 379.9 L935.5 380.1 L937.5 380.4 L939.5 380.7 L941.5 381.0 L943.5 381.2 L945.5 381.5 L947.5 381.7 L949.5 382.0 L951.5 382.2 L953.4 382.5 L955.4 382.7 L957.4 382.9 L959.4 383.2 L961.4 383.4 L963.4 383.6 L965.4 383.8 L967.4 384.0 L969.4 384.2 L971.4 384.4 L973.4 384.6 L975.4 384.8 L977.4 384.9 L979.4 385.1 L981.4 385.3 L983.4 385.4 L985.4 385.6 L987.4 385.7 L989.4 385.8 L991.4 386.0 L993.4 386.1 L995.4 386.2 L997.4 386.3 L999.4 386.4 L1001.4 386.5 L1003.4 386.5 L1005.4 386.6 L1007.4 386.6 L1009.4 386.7 L1011.4 386.7 L1013.4 386.8 L1015.4 386.8 L1017.4 386.8 L1019.4 386.8 L1021.5 386.8 L1023.5 386.8 L1025.5 386.7 L1027.5 386.7 L1029.5 386.7 L1031.5 386.6 L1033.5 386.5 L1035.5 386.5 L1037.5 386.4 L1039.5 386.3 L1041.5 386.2 L1043.5 386.0 L1045.5 385.9 L1047.5 385.8 L1049.5 385.6 L1051.5 385.4 L1053.6 385.3 L1055.6 385.1 L1057.6 384.9 L1059.6 384.6 L1061.6 384.4 L1063.6 384.2 L1065.6 383.9 L1067.6 383.7 L1069.6 383.4 L1071.6 383.1 L1073.5 382.8 L1075.5 382.5 L1077.5 382.2 L1079.5 381.8 L1081.5 381.5 L1083.5 381.1 L1085.5 380.7 L1087.5 380.3 L1089.5 379.9 L1091.4 379.5 L1093.4 379.0 L1095.4 378.6 L1097.4 378.1 L1099.3 377.6 L1101.3 377.1 L1103.2 376.6 L1105.2 376.0 L1107.1 375.4 L1109.0 374.9 L1111.0 374.3 L1112.9 373.6 L1114.8 373.0 L1116.7 372.3 L1118.6 371.7 L1120.4 371.0 L1122.3 370.2 L1124.2 369.5 L1126.0 368.7 L1127.8 368.0 L1129.7 367.2 L1131.5 366.3 L1133.3 365.5 L1135.1 364.6 L1136.8 363.7 L1138.6 362.8 L1140.3 361.8 L1142.1 360.8 L1143.8 359.8 L1145.5 358.8 L1147.1 357.8 L1148.8 356.7 L1150.4 355.6 L1152.1 354.5 L1153.7 353.3 L1155.3 352.1 L1156.8 350.9 L1158.4 349.7 L1159.9 348.5 L1161.5 347.2 L1163.0 345.9 L1164.4 344.5 L1165.9 343.2 L1167.4 341.8 L1168.8 340.4 L1170.2 339.0 L1171.6 337.6 L1172.9 336.2 L1174.3 334.7 L1175.6 333.2 L1176.9 331.7 L1178.2 330.2 L1179.5 328.6 L1180.8 327.0 L1182.0 325.5 L1183.2 323.9 L1184.4 322.3 L1185.6 320.6 L1186.7 319.0 L1187.9 317.3 L1189.0 315.7 L1190.1 314.0 L1191.1 312.3 L1192.2 310.6 L1193.2 308.8 L1194.2 307.1 L1195.2 305.3 L1196.2 303.6 L1197.1 301.8 L1198.0 300.0 L1199.0 298.2 L1199.8 296.4 L1200.7 294.6 L1201.6 292.8 L1202.4 291.0 L1203.2 289.1 L1204.0 287.3 L1204.8 285.4 L1205.6 283.6 L1206.3 281.7 L1207.1 279.8 L1207.8 278.0 L1208.5 276.1 L1209.2 274.2 L1209.9 272.3 L1210.6 270.4 L1211.2 268.5 L1211.9 266.6 L1212.5 264.6 L1213.2 262.7 L1213.8 260.8 L1214.4 258.9 L1215.0 257.0 L1215.6 255.0 L1216.1 253.1 L1216.7 251.2 L1217.3 249.3 L1217.8 247.3 L1218.4 245.4 L1218.9 243.5 L1219.4 241.5 L1219.9 239.6 L1220.4 237.6 L1220.9 235.7 L1221.4 233.8 L1221.9 231.8 L1222.4 229.9 L1222.9 227.9 L1223.3 226.0 L1223.8 224.0 L1224.2 222.1 L1224.7 220.1 L1225.1 218.2 L1225.5 216.2 L1226.0 214.2 L1226.4 212.3 L1226.8 210.3 L1227.2 208.4 L1227.6 206.4 L1228.0 204.4 L1228.4 202.5 L1228.8 200.5 L1229.1 198.5 L1229.5 196.6 L1229.9 194.6 L1230.2 192.6 L1230.6 190.7 L1231.0 188.7 L1231.3 186.7 L1231.6 184.8 L1232.0 182.8 L1232.3 180.8 L1232.7 178.8 L1233.0 176.9 L1233.3 174.9 L1233.7 172.9 L1234.0 170.9 L1234.3 169.0 L1234.6 167.0 L1234.9 165.0 L1235.3 163.0 L1235.6 161.0 L1235.9 159.1 L1236.2 157.1 L1236.5 155.1 L1236.8 153.1 L1237.1 151.1 L1237.4 149.2 L1237.7 147.2 L1238.0 145.2 L1238.3 143.2 L1238.6 141.2 L1238.9 139.3 L1239.2 137.3 L1239.5 135.3 L1239.8 133.3 L1240.1 131.3 L1240.4 129.3 L1240.7 127.4 L1241.0 125.4 L1241.3 123.4 L1241.6 121.4 L1241.9 119.4 L1242.2 117.5 L1242.5 115.5 L1242.8 113.5 L1243.1 111.5 L1243.4 109.5 L1243.7 107.6 L1244.0 105.6 L1244.3 103.6 L1244.6 101.6 L1244.9 99.6 L1245.2 97.6 L1245.5 95.7 L1245.8 93.7 L1246.0 91.7 L1246.3 89.7 L1246.6 87.7 L1246.9 85.7 L1247.2 83.8 L1247.5 81.8 L1247.7 79.8 L1248.0 77.8 L1248.3 75.8 L1248.5 73.8 L1248.8 71.9 L1249.1 69.9 L1249.3 67.9 L1249.6 65.9 L1249.8 63.9 L1250.1 61.9 L1250.3 59.9 L1250.6 57.9 L1250.8 55.9 L1251.1 54.0 L1251.3 52.0 L1251.5 50.0 L1251.7 48.0 L1252.0 46.0 L1252.2 44.0 L1252.4 42.0 L1252.6 40.0 L1252.8 38.0 L1253.0 36.0" stroke="#ff0000" stroke-width="4.6" fill="none" stroke-linecap="round" stroke-linejoin="round" stroke-dasharray="10.9 10.5 0 10.4" stroke-dashoffset="-12.15"/>
<path d="M198.2 320.5 L200.2 320.8 L202.2 321.1 L204.2 321.4 L206.1 321.7 L208.1 322.0 L210.1 322.3 L212.1 322.6 L214.1 322.9 L216.1 323.2 L218.0 323.5 L220.0 323.8 L222.0 324.1 L224.0 324.4 L226.0 324.7 L227.9 325.0 L229.9 325.3 L231.9 325.6 L233.9 326.0 L235.9 326.3 L237.9 326.6 L239.8 326.9 L241.8 327.2 L243.8 327.5 L245.8 327.8 L247.8 328.1 L249.7 328.4 L251.7 328.7 L253.7 329.0 L255.7 329.3 L257.7 329.7 L259.6 330.0 L261.6 330.3 L263.6 330.6 L265.6 330.9 L267.6 331.2 L269.5 331.5 L271.5 331.8 L273.5 332.1 L275.5 332.5 L277.5 332.8 L279.4 333.1 L281.4 333.4 L283.4 333.7 L285.4 334.0 L287.4 334.3 L289.3 334.7 L291.3 335.0 L293.3 335.3 L295.3 335.6 L297.3 335.9 L299.2 336.2 L301.2 336.5 L303.2 336.8 L305.2 337.2 L307.2 337.5 L309.1 337.8 L311.1 338.1 L313.1 338.4 L315.1 338.7 L317.0 339.1 L319.0 339.4 L321.0 339.7 L323.0 340.0 L325.0 340.3 L326.9 340.6 L328.9 340.9 L330.9 341.3 L332.9 341.6 L334.9 341.9 L336.8 342.2 L338.8 342.5 L340.8 342.8 L342.8 343.1 L344.7 343.5 L346.7 343.8 L348.7 344.1 L350.7 344.4 L352.7 344.7 L354.6 345.0 L356.6 345.4 L358.6 345.7 L360.6 346.0 L362.6 346.3 L364.5 346.6 L366.5 346.9 L368.5 347.2 L370.5 347.6 L372.5 347.9 L374.4 348.2 L376.4 348.5 L378.4 348.8 L380.4 349.1 L382.4 349.4 L384.3 349.7 L386.3 350.1 L388.3 350.4 L390.3 350.7 L392.3 351.0 L394.2 351.3 L396.2 351.6 L398.2 351.9 L400.2 352.2 L402.2 352.5 L404.1 352.9 L406.1 353.2 L408.1 353.5 L410.1 353.8 L412.1 354.1 L414.0 354.4 L416.0 354.7 L418.0 355.0 L420.0 355.3 L422.0 355.6 L424.0 355.9 L425.9 356.3 L427.9 356.6 L429.9 356.9 L431.9 357.2 L433.9 357.5 L435.9 357.8 L437.8 358.1 L439.8 358.4 L441.8 358.7 L443.8 359.0 L445.8 359.3 L447.8 359.6 L449.7 359.9 L451.7 360.2 L453.7 360.5 L455.7 360.8 L457.7 361.1 L459.7 361.4 L461.7 361.7 L463.6 362.0 L465.6 362.3 L467.6 362.5 L469.6 362.8 L471.6 363.1 L473.6 363.4 L475.6 363.7 L477.6 363.9 L479.5 364.2 L481.5 364.5 L483.5 364.8 L485.5 365.0 L487.5 365.3 L489.5 365.5 L491.5 365.8 L493.5 366.0 L495.5 366.3 L497.5 366.5 L499.4 366.8 L501.4 367.0 L503.4 367.2 L505.4 367.4 L507.4 367.7 L509.4 367.9 L511.4 368.1 L513.4 368.3 L515.4 368.5 L517.4 368.7 L519.4 368.9 L521.4 369.1 L523.4 369.2 L525.4 369.4 L527.4 369.6 L529.4 369.7 L531.4 369.9 L533.4 370.0 L535.4 370.2 L537.4 370.3 L539.4 370.5 L541.3 370.6 L543.3 370.7 L545.3 370.8 L547.3 370.9 L549.3 371.0 L551.4 371.1 L553.4 371.2 L555.4 371.3 L557.4 371.4 L559.4 371.5 L561.4 371.6 L563.4 371.6 L565.4 371.7 L567.4 371.8 L569.4 371.8 L571.4 371.9 L573.4 371.9 L575.4 372.0 L577.4 372.0 L579.4 372.0 L581.4 372.1 L583.4 372.1 L585.4 372.1 L587.4 372.2 L589.4 372.2 L591.4 372.2 L593.4 372.2 L595.4 372.3 L597.4 372.3 L599.5 372.3 L601.5 372.3 L603.5 372.3 L605.5 372.3 L607.5 372.3 L609.5 372.3 L611.5 372.3 L613.5 372.3 L615.5 372.3 L617.5 372.3 L619.5 372.3 L621.5 372.3 L623.5 372.3 L625.5 372.3 L627.6 372.2 L629.6 372.2 L631.6 372.2 L633.6 372.2 L635.6 372.2 L637.6 372.2 L639.6 372.2 L641.6 372.2 L643.6 372.2 L645.6 372.1 L647.6 372.1 L649.6 372.1 L651.7 372.1 L653.7 372.1 L655.7 372.1 L657.7 372.1 L659.7 372.1 L661.7 372.1 L663.7 372.1 L665.7 372.0 L667.7 372.0 L669.7 372.0 L671.7 372.0 L673.7 372.0 L675.7 372.1 L677.7 372.1 L679.8 372.1 L681.8 372.1 L683.8 372.1 L685.8 372.1 L687.8 372.1 L689.8 372.1 L691.8 372.2 L693.8 372.2 L695.8 372.2 L697.8 372.3 L699.8 372.3 L701.8 372.3 L703.8 372.4 L705.8 372.4 L707.8 372.5 L709.8 372.5 L711.8 372.6 L713.8 372.6 L715.8 372.7 L717.8 372.8 L719.8 372.8 L721.8 372.9 L723.8 373.0 L725.8 373.1 L727.8 373.2 L729.8 373.3 L731.8 373.4 L733.8 373.5 L735.8 373.6 L737.8 373.7 L739.8 373.8 L741.8 374.0 L743.8 374.1 L745.8 374.2 L747.8 374.4 L749.8 374.5 L751.8 374.7 L753.8 374.9 L755.8 375.0 L757.8 375.2 L759.8 375.4 L761.8 375.6 L763.8 375.7 L765.8 375.9 L767.8 376.1 L769.8 376.3 L771.8 376.5 L773.7 376.7 L775.7 377.0 L777.7 377.2 L779.7 377.4 L781.7 377.6 L783.7 377.9 L785.7 378.1 L787.7 378.3 L789.7 378.6 L791.7 378.8 L793.7 379.1 L795.6 379.3 L797.6 379.6 L799.6 379.8 L801.6 380.1 L803.6 380.3 L805.6 380.6 L807.6 380.9 L809.6 381.1 L811.5 381.4 L813.5 381.7 L815.5 382.0 L817.5 382.2 L819.5 382.5 L821.5 382.8 L823.5 383.1 L825.5 383.4 L827.4 383.7 L829.4 383.9 L831.4 384.2 L833.4 384.5 L835.4 384.8 L837.4 385.1 L839.4 385.4 L841.3 385.7 L843.3 386.0 L845.3 386.3 L847.3 386.6 L849.3 386.9 L851.3 387.2 L853.3 387.5 L855.3 387.8 L857.2 388.1 L859.2 388.4 L861.2 388.7 L863.2 389.0 L865.2 389.3 L867.2 389.6 L869.2 389.8 L871.1 390.1 L873.1 390.4 L875.1 390.7 L877.1 391.0 L879.1 391.3 L881.1 391.6 L883.1 391.9 L885.0 392.2 L887.0 392.5 L889.0 392.7 L891.0 393.0 L893.0 393.3 L895.0 393.6 L897.0 393.9 L899.0 394.1 L900.9 394.4 L902.9 394.7 L904.9 394.9 L906.9 395.2 L908.9 395.5 L910.9 395.7 L912.9 396.0 L914.9 396.2 L916.9 396.5 L918.8 396.7 L920.8 397.0 L922.8 397.2 L924.8 397.4 L926.8 397.7 L928.8 397.9 L930.8 398.1 L932.8 398.4 L934.8 398.6 L936.8 398.8 L938.8 399.0 L940.7 399.2 L942.7 399.4 L944.7 399.6 L946.7 399.8 L948.7 400.0 L950.7 400.2 L952.7 400.3 L954.7 400.5 L956.7 400.7 L958.7 400.9 L960.7 401.0 L962.7 401.2 L964.7 401.3 L966.7 401.5 L968.7 401.6 L970.7 401.8 L972.6 401.9 L974.6 402.0 L976.6 402.1 L978.6 402.3 L980.6 402.4 L982.6 402.5 L984.6 402.6 L986.6 402.7 L988.6 402.8 L990.6 402.9 L992.6 402.9 L994.6 403.0 L996.6 403.1 L998.6 403.1 L1000.6 403.2 L1002.6 403.2 L1004.6 403.3 L1006.6 403.3 L1008.6 403.4 L1010.6 403.4 L1012.6 403.4 L1014.6 403.4 L1016.6 403.4 L1018.6 403.4 L1020.6 403.4 L1022.6 403.4 L1024.6 403.4 L1026.6 403.4 L1028.6 403.3 L1030.6 403.3 L1032.6 403.3 L1034.6 403.2 L1036.6 403.2 L1038.6 403.1 L1040.6 403.0 L1042.6 402.9 L1044.6 402.9 L1046.6 402.8 L1048.6 402.7 L1050.6 402.6 L1052.6 402.4 L1054.6 402.3 L1056.5 402.2 L1058.5 402.0 L1060.5 401.9 L1062.5 401.7 L1064.5 401.6 L1066.5 401.4 L1068.5 401.2 L1070.5 401.1 L1072.5 400.9 L1074.5 400.7 L1076.5 400.5 L1078.5 400.2 L1080.5 400.0 L1082.5 399.8 L1084.5 399.5 L1086.5 399.3 L1088.5 399.0 L1090.5 398.8 L1092.5 398.5 L1094.5 398.2 L1096.5 397.9 L1098.5 397.6 L1100.5 397.3 L1102.5 397.0 L1104.5 396.7 L1106.5 396.3 L1108.5 396.0 L1110.5 395.6 L1112.5 395.3 L1114.5 394.9 L1116.5 394.5 L1118.5 394.1 L1120.5 393.7 L1122.5 393.3 L1124.5 392.9 L1126.4 392.4 L1128.4 392.0 L1130.4 391.5 L1132.4 391.1 L1134.4 390.6 L1136.3 390.1 L1138.3 389.5 L1140.3 389.0 L1142.2 388.5 L1144.2 387.9 L1146.1 387.3 L1148.0 386.7 L1149.9 386.1 L1151.8 385.4 L1153.7 384.8 L1155.6 384.1 L1157.5 383.4 L1159.4 382.6 L1161.2 381.9 L1163.0 381.1 L1164.9 380.3 L1166.7 379.4 L1168.5 378.6 L1170.2 377.7 L1172.0 376.8 L1173.7 375.9 L1175.5 374.9 L1177.2 373.9 L1178.9 372.9 L1180.5 371.8 L1182.2 370.7 L1183.8 369.6 L1185.4 368.4 L1187.0 367.3 L1188.6 366.0 L1190.1 364.8 L1191.6 363.5 L1193.1 362.2 L1194.6 360.8 L1196.0 359.4 L1197.5 358.0 L1198.8 356.6 L1200.2 355.1 L1201.5 353.6 L1202.8 352.1 L1204.1 350.5 L1205.3 349.0 L1206.5 347.4 L1207.7 345.7 L1208.9 344.1 L1210.0 342.4 L1211.0 340.7 L1212.1 339.0 L1213.1 337.3 L1214.1 335.5 L1215.0 333.7 L1216.0 331.9 L1216.9 330.1 L1217.8 328.3 L1218.6 326.5 L1219.5 324.7 L1220.3 322.8 L1221.1 321.0 L1221.9 319.1 L1222.7 317.2 L1223.4 315.4 L1224.2 313.5 L1224.9 311.6 L1225.6 309.7 L1226.3 307.8 L1227.0 305.9 L1227.7 304.1 L1228.3 302.2 L1229.0 300.3 L1229.6 298.3 L1230.2 296.4 L1230.9 294.5 L1231.5 292.6 L1232.1 290.7 L1232.6 288.8 L1233.2 286.9 L1233.8 284.9 L1234.3 283.0 L1234.9 281.1 L1235.4 279.1 L1235.9 277.2 L1236.4 275.3 L1236.9 273.3 L1237.4 271.4 L1237.9 269.4 L1238.4 267.5 L1238.9 265.6 L1239.3 263.6 L1239.8 261.7 L1240.3 259.7 L1240.7 257.7 L1241.2 255.8 L1241.6 253.8 L1242.0 251.9 L1242.5 249.9 L1242.9 248.0 L1243.3 246.0 L1243.7 244.0 L1244.1 242.1 L1244.6 240.1 L1245.0 238.1 L1245.4 236.2 L1245.8 234.2 L1246.2 232.3 L1246.6 230.3 L1247.0 228.3 L1247.4 226.4 L1247.8 224.4 L1248.2 222.4 L1248.6 220.5 L1249.0 218.5 L1249.4 216.5 L1249.8 214.6 L1250.2 212.6 L1250.6 210.6 L1251.0 208.7 L1251.4 206.7 L1251.8 204.7 L1252.1 202.8 L1252.5 200.8 L1252.9 198.9 L1253.3 196.9 L1253.7 194.9 L1254.1 193.0 L1254.5 191.0 L1254.8 189.0 L1255.2 187.1 L1255.6 185.1 L1255.9 183.1 L1256.3 181.1 L1256.6 179.2 L1257.0 177.2 L1257.3 175.2 L1257.6 173.3 L1257.9 171.3 L1258.2 169.3 L1258.5 167.3 L1258.8 165.3 L1259.1 163.4 L1259.3 161.4 L1259.6 159.4 L1259.9 157.4 L1260.1 155.4 L1260.4 153.4 L1260.6 151.4 L1260.8 149.4 L1261.1 147.4 L1261.3 145.5 L1261.5 143.5 L1261.7 141.5 L1262.0 139.5 L1262.2 137.5 L1262.4 135.5 L1262.6 133.5 L1262.8 131.5 L1263.1 129.5 L1263.3 127.5 L1263.5 125.5 L1263.7 123.5 L1263.9 121.5 L1264.2 119.5 L1264.4 117.5 L1264.6 115.6 L1264.8 113.6 L1265.1 111.6 L1265.3 109.6 L1265.6 107.6 L1265.8 105.6 L1266.1 103.6 L1266.3 101.6 L1266.5 99.6 L1266.8 97.6 L1267.1 95.6 L1267.3 93.7 L1267.6 91.7 L1267.8 89.7 L1268.1 87.7 L1268.3 85.7 L1268.6 83.7 L1268.9 81.7 L1269.1 79.7 L1269.4 77.8 L1269.6 75.8 L1269.9 73.8 L1270.2 71.8 L1270.4 69.8 L1270.7 67.8 L1271.0 65.8 L1271.2 63.8 L1271.5 61.9 L1271.7 59.9 L1272.0 57.9 L1272.3 55.9 L1272.5 53.9 L1272.8 51.9 L1273.0 49.9 L1273.3 47.9 L1273.6 45.9 L1273.8 44.0 L1274.1 42.0 L1274.3 40.0 L1274.6 38.0 L1274.8 36.0" stroke="#000000" stroke-width="4.6" fill="none" stroke-linecap="round" stroke-linejoin="round"/>
</g>
<g clip-path="url(#cb)">
<path d="M199.0 519.5 L201.0 519.3 L203.0 519.2 L205.0 519.0 L207.0 518.9 L209.0 518.7 L211.0 518.5 L213.0 518.4 L215.0 518.2 L217.0 518.1 L219.0 517.9 L221.0 517.8 L223.0 517.6 L225.0 517.5 L227.0 517.3 L229.0 517.1 L231.0 517.0 L233.0 516.8 L235.0 516.7 L237.0 516.5 L239.0 516.4 L241.0 516.2 L243.0 516.1 L245.0 515.9 L247.0 515.8 L249.0 515.6 L251.0 515.5 L253.0 515.3 L255.0 515.2 L257.0 515.0 L259.0 514.9 L261.0 514.7 L262.9 514.6 L264.9 514.4 L266.9 514.3 L268.9 514.1 L270.9 514.0 L272.9 513.8 L274.9 513.7 L276.9 513.5 L278.9 513.4 L280.9 513.2 L282.9 513.1 L284.9 512.9 L286.9 512.8 L288.9 512.7 L290.9 512.5 L292.9 512.4 L294.9 512.2 L296.9 512.1 L298.9 511.9 L300.9 511.8 L302.9 511.7 L304.9 511.5 L306.9 511.4 L308.9 511.2 L310.9 511.1 L312.9 510.9 L314.9 510.8 L316.9 510.7 L318.9 510.5 L320.9 510.4 L322.9 510.3 L324.9 510.1 L326.9 510.0 L328.9 509.8 L330.9 509.7 L332.9 509.6 L334.9 509.4 L336.9 509.3 L338.9 509.2 L340.9 509.0 L342.9 508.9 L344.9 508.8 L346.9 508.6 L348.9 508.5 L350.9 508.3 L352.9 508.2 L354.9 508.1 L356.9 508.0 L358.9 507.8 L360.9 507.7 L362.9 507.6 L364.9 507.4 L366.9 507.3 L368.9 507.2 L370.9 507.0 L372.9 506.9 L374.9 506.8 L376.9 506.7 L378.9 506.5 L380.9 506.4 L382.9 506.3 L384.9 506.1 L386.9 506.0 L388.9 505.9 L390.9 505.8 L393.0 505.6 L395.0 505.5 L397.0 505.4 L399.0 505.3 L401.0 505.1 L403.0 505.0 L405.0 504.9 L407.0 504.8 L409.0 504.6 L411.0 504.5 L413.0 504.4 L415.0 504.3 L417.0 504.2 L419.0 504.0 L421.0 503.9 L423.0 503.8 L425.0 503.7 L427.0 503.6 L429.0 503.5 L431.0 503.3 L433.0 503.2 L435.0 503.1 L437.0 503.0 L439.0 502.9 L441.0 502.8 L443.0 502.6 L445.0 502.5 L447.0 502.4 L449.0 502.3 L451.0 502.2 L453.0 502.1 L455.0 502.0 L457.0 501.9 L459.0 501.8 L461.0 501.6 L463.0 501.5 L465.0 501.4 L467.0 501.3 L469.0 501.2 L471.0 501.1 L473.0 501.0 L475.0 500.9 L477.0 500.8 L479.0 500.7 L481.0 500.6 L483.0 500.5 L485.0 500.4 L487.0 500.4 L489.0 500.3 L491.0 500.2 L493.0 500.1 L495.0 500.0 L497.0 499.9 L499.0 499.8 L501.0 499.7 L503.0 499.7 L505.0 499.6 L507.0 499.5 L509.0 499.4 L511.0 499.4 L513.0 499.3 L515.0 499.2 L517.0 499.2 L519.0 499.1 L521.0 499.0 L523.0 499.0 L525.0 498.9 L527.1 498.8 L529.1 498.8 L531.1 498.7 L533.1 498.7 L535.1 498.6 L537.1 498.6 L539.1 498.5 L541.1 498.5 L543.1 498.5 L545.1 498.4 L547.1 498.4 L549.1 498.4 L551.1 498.3 L553.1 498.3 L555.1 498.3 L557.1 498.2 L559.1 498.2 L561.1 498.2 L563.1 498.2 L565.1 498.2 L567.1 498.2 L569.1 498.1 L571.2 498.1 L573.2 498.1 L575.2 498.1 L577.2 498.1 L579.2 498.1 L581.2 498.1 L583.2 498.1 L585.2 498.1 L587.2 498.1 L589.2 498.1 L591.2 498.1 L593.2 498.1 L595.2 498.1 L597.2 498.1 L599.2 498.2 L601.2 498.2 L603.2 498.2 L605.3 498.2 L607.3 498.2 L609.3 498.2 L611.3 498.2 L613.3 498.2 L615.3 498.3 L617.3 498.3 L619.3 498.3 L621.3 498.3 L623.3 498.3 L625.3 498.4 L627.3 498.4 L629.3 498.4 L631.3 498.4 L633.3 498.4 L635.3 498.4 L637.4 498.5 L639.4 498.5 L641.4 498.5 L643.4 498.5 L645.4 498.5 L647.4 498.6 L649.4 498.6 L651.4 498.6 L653.4 498.6 L655.4 498.6 L657.4 498.7 L659.4 498.7 L661.4 498.7 L663.4 498.7 L665.4 498.7 L667.4 498.7 L669.4 498.8 L671.4 498.8 L673.4 498.8 L675.5 498.8 L677.5 498.8 L679.5 498.8 L681.5 498.8 L683.5 498.8 L685.5 498.8 L687.5 498.8 L689.5 498.9 L691.5 498.9 L693.5 498.9 L695.5 498.9 L697.5 498.9 L699.5 498.9 L701.5 498.9 L703.5 498.9 L705.5 498.9 L707.5 498.9 L709.5 498.9 L711.5 498.9 L713.5 498.9 L715.5 498.9 L717.5 498.9 L719.5 498.8 L721.5 498.8 L723.5 498.8 L725.5 498.8 L727.5 498.8 L729.5 498.8 L731.6 498.8 L733.6 498.8 L735.6 498.8 L737.6 498.8 L739.6 498.7 L741.6 498.7 L743.6 498.7 L745.6 498.7 L747.6 498.7 L749.6 498.7 L751.6 498.6 L753.6 498.6 L755.6 498.6 L757.6 498.6 L759.6 498.6 L761.6 498.5 L763.6 498.5 L765.6 498.5 L767.6 498.5 L769.6 498.4 L771.6 498.4 L773.6 498.4 L775.6 498.4 L777.6 498.3 L779.6 498.3 L781.6 498.3 L783.6 498.2 L785.6 498.2 L787.6 498.2 L789.6 498.1 L791.6 498.1 L793.6 498.1 L795.6 498.0 L797.6 498.0 L799.6 498.0 L801.6 497.9 L803.6 497.9 L805.6 497.9 L807.6 497.8 L809.6 497.8 L811.6 497.7 L813.6 497.7 L815.7 497.6 L817.7 497.6 L819.7 497.6 L821.7 497.5 L823.7 497.5 L825.7 497.4 L827.7 497.4 L829.7 497.3 L831.7 497.3 L833.7 497.2 L835.7 497.2 L837.7 497.1 L839.7 497.1 L841.7 497.0 L843.7 496.9 L845.7 496.9 L847.7 496.8 L849.7 496.8 L851.7 496.7 L853.7 496.7 L855.7 496.6 L857.7 496.5 L859.7 496.5 L861.7 496.4 L863.7 496.3 L865.7 496.3 L867.7 496.2 L869.7 496.2 L871.7 496.1 L873.8 496.0 L875.8 495.9 L877.8 495.9 L879.8 495.8 L881.8 495.7 L883.8 495.7 L885.8 495.6 L887.8 495.5 L889.8 495.4 L891.8 495.4 L893.8 495.3 L895.8 495.2 L897.8 495.1 L899.8 495.1 L901.8 495.0 L903.8 494.9 L905.8 494.8 L907.8 494.7 L909.8 494.7 L911.9 494.6 L913.9 494.5 L915.9 494.4 L917.9 494.3 L919.9 494.2 L921.9 494.2 L923.9 494.1 L925.9 494.0 L927.9 493.9 L929.9 493.8 L931.9 493.8 L933.9 493.7 L935.9 493.6 L937.9 493.5 L939.9 493.4 L942.0 493.4 L944.0 493.3 L946.0 493.2 L948.0 493.2 L950.0 493.1 L952.0 493.0 L954.0 493.0 L956.0 492.9 L958.0 492.9 L960.0 492.8 L962.0 492.8 L964.0 492.7 L966.0 492.7 L968.0 492.6 L970.0 492.6 L972.1 492.6 L974.1 492.5 L976.1 492.5 L978.1 492.5 L980.1 492.5 L982.1 492.5 L984.1 492.4 L986.1 492.4 L988.1 492.4 L990.1 492.5 L992.1 492.5 L994.1 492.5 L996.1 492.5 L998.1 492.5 L1000.1 492.6 L1002.1 492.6 L1004.1 492.7 L1006.1 492.7 L1008.1 492.8 L1010.1 492.9 L1012.1 492.9 L1014.1 493.0 L1016.1 493.1 L1018.1 493.2 L1020.1 493.3 L1022.1 493.4 L1024.1 493.5 L1026.1 493.6 L1028.1 493.8 L1030.1 493.9 L1032.1 494.1 L1034.1 494.2 L1036.1 494.4 L1038.1 494.6 L1040.1 494.8 L1042.1 494.9 L1044.1 495.1 L1046.1 495.4 L1048.1 495.6 L1050.0 495.8 L1052.0 496.0 L1054.0 496.3 L1056.0 496.6 L1058.0 496.8 L1060.0 497.1 L1062.0 497.4 L1064.0 497.7 L1066.0 498.0 L1068.0 498.3 L1069.9 498.7 L1071.9 499.0 L1073.9 499.4 L1075.9 499.7 L1077.9 500.1 L1079.9 500.5 L1081.8 500.9 L1083.8 501.3 L1085.8 501.8 L1087.7 502.2 L1089.7 502.7 L1091.7 503.2 L1093.6 503.7 L1095.6 504.2 L1097.5 504.7 L1099.4 505.2 L1101.3 505.8 L1103.3 506.4 L1105.2 507.0 L1107.1 507.6 L1109.0 508.2 L1110.9 508.9 L1112.8 509.6 L1114.6 510.2 L1116.5 511.0 L1118.3 511.7 L1120.2 512.4 L1122.0 513.2 L1123.8 514.0 L1125.6 514.8 L1127.4 515.7 L1129.2 516.6 L1131.0 517.4 L1132.7 518.4 L1134.5 519.3 L1136.2 520.3 L1137.9 521.2 L1139.6 522.3 L1141.3 523.3 L1143.0 524.4 L1144.6 525.5 L1146.3 526.6 L1147.9 527.7 L1149.5 528.9 L1151.1 530.1 L1152.7 531.3 L1154.2 532.6 L1155.8 533.8 L1157.3 535.1 L1158.8 536.5 L1160.3 537.8 L1161.8 539.2 L1163.3 540.6 L1164.7 542.0 L1166.1 543.4 L1167.6 544.8 L1169.0 546.3 L1170.3 547.7 L1171.7 549.2 L1173.1 550.7 L1174.4 552.2 L1175.7 553.8 L1177.1 555.3 L1178.4 556.9 L1179.7 558.4 L1180.9 560.0 L1182.2 561.6 L1183.4 563.2 L1184.7 564.8 L1185.9 566.4 L1187.1 568.0 L1188.3 569.7 L1189.5 571.3 L1190.6 573.0 L1191.8 574.6 L1192.9 576.3 L1194.1 578.0 L1195.2 579.6 L1196.3 581.3 L1197.4 583.0 L1198.5 584.7 L1199.6 586.4 L1200.7 588.1 L1201.8 589.8 L1202.8 591.5 L1203.9 593.2 L1204.9 594.9 L1206.0 596.7 L1207.0 598.4 L1208.0 600.1 L1209.0 601.8 L1210.0 603.6 L1211.1 605.3 L1212.0 607.0 L1213.0 608.8 L1214.0 610.5 L1215.0 612.2 L1216.0 614.0 L1217.0 615.7 L1217.9 617.5 L1218.9 619.2 L1219.9 621.0 L1220.8 622.7 L1221.8 624.5 L1222.7 626.2 L1223.7 628.0 L1224.6 629.7 L1225.6 631.5 L1226.5 633.2 L1227.5 635.0 L1228.4 636.7 L1229.4 638.5 L1230.4 640.2 L1231.3 642.0 L1232.3 643.8 L1233.2 645.5 L1234.2 647.3 L1235.2 649.0 L1236.1 650.8 L1237.1 652.5 L1238.1 654.3 L1239.0 656.0 L1240.0 657.8 L1241.0 659.5 L1242.0 661.3 L1243.0 663.0 L1244.0 664.7 L1245.0 666.5 L1246.0 668.2 L1247.0 669.9 L1248.1 671.7 L1249.1 673.4 L1250.1 675.1 L1251.2 676.8 L1252.2 678.5 L1253.3 680.2 L1254.4 681.9 L1255.4 683.6 L1256.5 685.3 L1257.6 686.9 L1258.7 688.6 L1259.8 690.3 L1261.0 691.9 L1262.1 693.6 L1263.2 695.2 L1264.4 696.9 L1265.5 698.5 L1266.7 700.1 L1267.9 701.8 L1269.0 703.4 L1270.2 705.0 L1271.4 706.6 L1272.7 708.2 L1273.9 709.8 L1275.1 711.3 L1276.4 712.9 L1277.6 714.4 L1278.9 716.0 L1280.2 717.5 L1281.4 719.1 L1282.7 720.6 L1284.0 722.1 L1285.4 723.6 L1286.7 725.1 L1288.0 726.6 L1289.4 728.0 L1290.8 729.5 L1292.1 730.9 L1293.5 732.4 L1294.9 733.8 L1296.3 735.2 L1297.8 736.6 L1299.2 738.0 L1300.6 739.4 L1302.1 740.8 L1303.5 742.2 L1305.0 743.6 L1306.5 744.9 L1307.9 746.3 L1309.4 747.7 L1310.9 749.0 L1312.4 750.4 L1313.9 751.7 L1315.4 753.1 L1316.8 754.4 L1318.3 755.8 L1319.8 757.1 L1321.3 758.5 L1322.8 759.8 L1324.3 761.2 L1325.8 762.5 L1327.3 763.9 L1328.7 765.3 L1330.2 766.6 L1331.7 768.0 L1333.1 769.4 L1334.6 770.8 L1336.0 772.2 L1337.4 773.6 L1338.9 775.0 L1340.3 776.4 L1341.7 777.8 L1343.0 779.2 L1344.4 780.7 L1345.8 782.2 L1347.1 783.6 L1348.4 785.1 L1349.7 786.6 L1351.0 788.1 L1352.3 789.7 L1353.5 791.2 L1354.7 792.8 L1355.9 794.4 L1357.1 796.0 L1358.2 797.6 L1359.4 799.3 L1360.5 800.9 L1361.5 802.6 L1362.6 804.3 L1363.6 806.1 L1364.6 807.8 L1365.5 809.6 L1366.4 811.4 L1367.3 813.3 L1368.2 815.1 L1369.0 817.0" stroke="#808080" stroke-width="4.6" fill="none" stroke-linecap="round" stroke-linejoin="round" stroke-dasharray="16.2 24.3" stroke-dashoffset="-5.7"/>
<path d="M198.0 505.2 L200.0 505.2 L202.0 505.2 L204.0 505.2 L206.0 505.2 L208.0 505.1 L210.0 505.1 L212.0 505.1 L214.0 505.1 L216.0 505.1 L218.0 505.0 L220.0 505.0 L222.0 505.0 L224.0 504.9 L226.0 504.9 L228.0 504.9 L230.0 504.8 L232.1 504.8 L234.1 504.8 L236.1 504.7 L238.1 504.7 L240.1 504.6 L242.1 504.6 L244.1 504.6 L246.1 504.5 L248.1 504.5 L250.1 504.4 L252.1 504.4 L254.1 504.3 L256.1 504.3 L258.1 504.2 L260.1 504.2 L262.1 504.1 L264.1 504.0 L266.1 504.0 L268.1 503.9 L270.1 503.9 L272.1 503.8 L274.1 503.7 L276.1 503.7 L278.1 503.6 L280.1 503.5 L282.1 503.5 L284.1 503.4 L286.1 503.3 L288.1 503.3 L290.1 503.2 L292.1 503.1 L294.2 503.1 L296.2 503.0 L298.2 502.9 L300.2 502.8 L302.2 502.8 L304.2 502.7 L306.2 502.6 L308.2 502.5 L310.2 502.4 L312.2 502.4 L314.2 502.3 L316.2 502.2 L318.2 502.1 L320.2 502.0 L322.2 502.0 L324.2 501.9 L326.2 501.8 L328.2 501.7 L330.2 501.6 L332.2 501.5 L334.2 501.5 L336.2 501.4 L338.2 501.3 L340.2 501.2 L342.2 501.1 L344.2 501.0 L346.2 500.9 L348.2 500.8 L350.2 500.8 L352.2 500.7 L354.2 500.6 L356.2 500.5 L358.2 500.4 L360.3 500.3 L362.3 500.2 L364.3 500.1 L366.3 500.0 L368.3 499.9 L370.3 499.9 L372.3 499.8 L374.3 499.7 L376.3 499.6 L378.3 499.5 L380.3 499.4 L382.3 499.3 L384.3 499.2 L386.3 499.1 L388.3 499.0 L390.3 499.0 L392.3 498.9 L394.3 498.8 L396.3 498.7 L398.3 498.6 L400.3 498.5 L402.3 498.4 L404.3 498.3 L406.3 498.3 L408.3 498.2 L410.3 498.1 L412.3 498.0 L414.3 497.9 L416.3 497.8 L418.3 497.7 L420.3 497.6 L422.3 497.6 L424.3 497.5 L426.3 497.4 L428.3 497.3 L430.3 497.2 L432.4 497.1 L434.4 497.1 L436.4 497.0 L438.4 496.9 L440.4 496.8 L442.4 496.7 L444.4 496.7 L446.4 496.6 L448.4 496.5 L450.4 496.4 L452.4 496.4 L454.4 496.3 L456.4 496.2 L458.4 496.1 L460.4 496.1 L462.4 496.0 L464.4 495.9 L466.4 495.9 L468.4 495.8 L470.4 495.7 L472.4 495.7 L474.4 495.6 L476.4 495.5 L478.4 495.5 L480.4 495.4 L482.4 495.3 L484.4 495.3 L486.4 495.2 L488.4 495.2 L490.4 495.1 L492.4 495.1 L494.4 495.0 L496.4 494.9 L498.4 494.9 L500.4 494.8 L502.4 494.8 L504.4 494.7 L506.4 494.7 L508.4 494.6 L510.5 494.6 L512.5 494.5 L514.5 494.5 L516.5 494.4 L518.5 494.4 L520.5 494.3 L522.5 494.3 L524.5 494.2 L526.5 494.2 L528.5 494.2 L530.5 494.1 L532.5 494.1 L534.5 494.0 L536.5 494.0 L538.5 494.0 L540.5 493.9 L542.5 493.9 L544.5 493.8 L546.5 493.8 L548.5 493.8 L550.5 493.7 L552.5 493.7 L554.5 493.7 L556.5 493.6 L558.5 493.6 L560.5 493.6 L562.5 493.6 L564.5 493.5 L566.5 493.5 L568.5 493.5 L570.5 493.4 L572.5 493.4 L574.5 493.4 L576.5 493.4 L578.5 493.3 L580.6 493.3 L582.6 493.3 L584.6 493.3 L586.6 493.2 L588.6 493.2 L590.6 493.2 L592.6 493.2 L594.6 493.2 L596.6 493.1 L598.6 493.1 L600.6 493.1 L602.6 493.1 L604.6 493.1 L606.6 493.1 L608.6 493.1 L610.6 493.0 L612.6 493.0 L614.6 493.0 L616.6 493.0 L618.6 493.0 L620.6 493.0 L622.6 493.0 L624.6 493.0 L626.6 493.0 L628.6 492.9 L630.6 492.9 L632.7 492.9 L634.7 492.9 L636.7 492.9 L638.7 492.9 L640.7 492.9 L642.7 492.9 L644.7 492.9 L646.7 492.9 L648.7 492.9 L650.7 492.9 L652.7 492.9 L654.7 492.9 L656.7 492.9 L658.7 492.9 L660.7 492.9 L662.7 492.9 L664.7 492.9 L666.7 492.9 L668.7 492.9 L670.8 492.9 L672.8 492.9 L674.8 492.9 L676.8 492.9 L678.8 492.9 L680.8 492.9 L682.8 493.0 L684.8 493.0 L686.8 493.0 L688.8 493.0 L690.8 493.0 L692.8 493.0 L694.8 493.0 L696.8 493.0 L698.8 493.0 L700.8 493.0 L702.9 493.0 L704.9 493.0 L706.9 493.0 L708.9 493.1 L710.9 493.1 L712.9 493.1 L714.9 493.1 L716.9 493.1 L718.9 493.1 L720.9 493.1 L722.9 493.1 L724.9 493.1 L726.9 493.1 L728.9 493.1 L730.9 493.1 L733.0 493.1 L735.0 493.1 L737.0 493.1 L739.0 493.1 L741.0 493.1 L743.0 493.1 L745.0 493.1 L747.0 493.1 L749.0 493.1 L751.0 493.1 L753.0 493.1 L755.0 493.1 L757.0 493.1 L759.0 493.0 L761.0 493.0 L763.0 493.0 L765.0 493.0 L767.0 493.0 L769.1 493.0 L771.1 492.9 L773.1 492.9 L775.1 492.9 L777.1 492.9 L779.1 492.8 L781.1 492.8 L783.1 492.8 L785.1 492.7 L787.1 492.7 L789.1 492.7 L791.1 492.6 L793.1 492.6 L795.1 492.5 L797.1 492.5 L799.1 492.4 L801.1 492.4 L803.1 492.3 L805.1 492.3 L807.1 492.2 L809.1 492.2 L811.1 492.1 L813.1 492.1 L815.1 492.0 L817.1 492.0 L819.1 491.9 L821.1 491.8 L823.1 491.8 L825.1 491.7 L827.1 491.6 L829.1 491.6 L831.1 491.5 L833.1 491.4 L835.1 491.4 L837.1 491.3 L839.1 491.2 L841.1 491.2 L843.1 491.1 L845.1 491.0 L847.1 490.9 L849.1 490.9 L851.2 490.8 L853.2 490.7 L855.2 490.6 L857.2 490.6 L859.2 490.5 L861.2 490.4 L863.2 490.3 L865.2 490.3 L867.2 490.2 L869.2 490.1 L871.2 490.0 L873.2 489.9 L875.2 489.9 L877.2 489.8 L879.2 489.7 L881.2 489.6 L883.2 489.6 L885.2 489.5 L887.2 489.4 L889.2 489.3 L891.2 489.3 L893.2 489.2 L895.2 489.1 L897.2 489.0 L899.2 489.0 L901.2 488.9 L903.2 488.8 L905.2 488.7 L907.2 488.7 L909.2 488.6 L911.2 488.5 L913.2 488.5 L915.2 488.4 L917.2 488.3 L919.2 488.3 L921.2 488.2 L923.2 488.1 L925.2 488.1 L927.2 488.0 L929.2 488.0 L931.2 487.9 L933.2 487.8 L935.2 487.8 L937.2 487.7 L939.2 487.7 L941.2 487.6 L943.2 487.6 L945.2 487.5 L947.2 487.5 L949.2 487.4 L951.2 487.4 L953.2 487.4 L955.2 487.3 L957.2 487.3 L959.2 487.2 L961.2 487.2 L963.2 487.2 L965.2 487.1 L967.2 487.1 L969.2 487.1 L971.2 487.1 L973.2 487.1 L975.2 487.0 L977.2 487.0 L979.2 487.0 L981.2 487.0 L983.2 487.0 L985.2 487.0 L987.2 487.0 L989.2 487.0 L991.2 487.0 L993.2 487.0 L995.2 487.0 L997.2 487.0 L999.2 487.0 L1001.2 487.0 L1003.2 487.0 L1005.2 487.1 L1007.3 487.1 L1009.3 487.1 L1011.3 487.1 L1013.3 487.2 L1015.3 487.2 L1017.3 487.2 L1019.3 487.3 L1021.3 487.3 L1023.3 487.4 L1025.3 487.4 L1027.3 487.5 L1029.3 487.5 L1031.3 487.6 L1033.3 487.7 L1035.3 487.7 L1037.4 487.8 L1039.4 487.9 L1041.4 488.0 L1043.4 488.1 L1045.4 488.2 L1047.4 488.2 L1049.4 488.3 L1051.4 488.4 L1053.4 488.5 L1055.4 488.7 L1057.4 488.8 L1059.5 488.9 L1061.5 489.0 L1063.5 489.1 L1065.5 489.3 L1067.5 489.4 L1069.5 489.5 L1071.5 489.7 L1073.5 489.8 L1075.6 490.0 L1077.6 490.1 L1079.6 490.3 L1081.6 490.5 L1083.6 490.6 L1085.6 490.8 L1087.6 491.0 L1089.6 491.2 L1091.7 491.4 L1093.7 491.6 L1095.7 491.8 L1097.7 492.0 L1099.7 492.2 L1101.7 492.5 L1103.7 492.7 L1105.7 493.0 L1107.7 493.2 L1109.7 493.5 L1111.7 493.8 L1113.7 494.1 L1115.6 494.5 L1117.6 494.8 L1119.6 495.2 L1121.5 495.6 L1123.5 496.0 L1125.4 496.4 L1127.4 496.8 L1129.3 497.3 L1131.2 497.7 L1133.2 498.2 L1135.1 498.8 L1137.0 499.3 L1138.9 499.9 L1140.8 500.4 L1142.6 501.1 L1144.5 501.7 L1146.4 502.4 L1148.2 503.1 L1150.0 503.8 L1151.9 504.5 L1153.7 505.3 L1155.5 506.1 L1157.3 506.9 L1159.1 507.8 L1160.8 508.7 L1162.6 509.6 L1164.3 510.6 L1166.0 511.6 L1167.7 512.6 L1169.4 513.7 L1171.1 514.8 L1172.8 515.9 L1174.4 517.0 L1176.1 518.2 L1177.7 519.4 L1179.3 520.7 L1180.9 522.0 L1182.4 523.2 L1184.0 524.6 L1185.5 525.9 L1187.0 527.3 L1188.5 528.7 L1190.0 530.1 L1191.4 531.5 L1192.9 533.0 L1194.3 534.4 L1195.7 535.9 L1197.0 537.4 L1198.4 538.9 L1199.7 540.5 L1201.0 542.0 L1202.3 543.6 L1203.6 545.2 L1204.8 546.8 L1206.0 548.4 L1207.2 550.0 L1208.4 551.6 L1209.5 553.3 L1210.6 554.9 L1211.7 556.6 L1212.8 558.3 L1213.9 560.0 L1215.0 561.7 L1216.0 563.4 L1217.0 565.1 L1218.0 566.8 L1219.0 568.6 L1219.9 570.3 L1220.9 572.1 L1221.8 573.8 L1222.7 575.6 L1223.6 577.4 L1224.5 579.2 L1225.4 581.0 L1226.2 582.8 L1227.1 584.6 L1227.9 586.4 L1228.7 588.2 L1229.5 590.1 L1230.3 591.9 L1231.1 593.7 L1231.8 595.6 L1232.6 597.4 L1233.3 599.3 L1234.1 601.2 L1234.8 603.0 L1235.5 604.9 L1236.2 606.8 L1236.9 608.7 L1237.6 610.5 L1238.3 612.4 L1238.9 614.3 L1239.6 616.2 L1240.3 618.1 L1240.9 620.0 L1241.5 621.9 L1242.2 623.8 L1242.8 625.7 L1243.4 627.6 L1244.0 629.5 L1244.6 631.4 L1245.2 633.4 L1245.8 635.3 L1246.4 637.2 L1247.0 639.1 L1247.5 641.0 L1248.1 643.0 L1248.7 644.9 L1249.2 646.8 L1249.8 648.8 L1250.4 650.7 L1250.9 652.6 L1251.5 654.6 L1252.0 656.5 L1252.5 658.4 L1253.1 660.3 L1253.6 662.3 L1254.2 664.2 L1254.7 666.1 L1255.2 668.1 L1255.8 670.0 L1256.3 671.9 L1256.8 673.9 L1257.4 675.8 L1257.9 677.7 L1258.4 679.7 L1258.9 681.6 L1259.5 683.5 L1260.0 685.5 L1260.5 687.4 L1261.0 689.3 L1261.6 691.2 L1262.1 693.2 L1262.6 695.1 L1263.1 697.0 L1263.6 699.0 L1264.2 700.9 L1264.7 702.8 L1265.2 704.7 L1265.7 706.7 L1266.2 708.6 L1266.7 710.5 L1267.2 712.5 L1267.7 714.4 L1268.3 716.3 L1268.8 718.3 L1269.3 720.2 L1269.8 722.1 L1270.3 724.1 L1270.8 726.0 L1271.3 727.9 L1271.8 729.9 L1272.2 731.8 L1272.7 733.7 L1273.2 735.7 L1273.7 737.6 L1274.2 739.6 L1274.7 741.5 L1275.2 743.4 L1275.6 745.4 L1276.1 747.3 L1276.6 749.3 L1277.1 751.2 L1277.5 753.2 L1278.0 755.1 L1278.5 757.1 L1279.0 759.0 L1279.4 761.0 L1279.9 762.9 L1280.3 764.9 L1280.8 766.8 L1281.2 768.8 L1281.7 770.8 L1282.1 772.7 L1282.6 774.7 L1283.0 776.7 L1283.5 778.6 L1283.9 780.6 L1284.4 782.6 L1284.8 784.5 L1285.2 786.5 L1285.7 788.5 L1286.1 790.5 L1286.5 792.4 L1286.9 794.4 L1287.3 796.4 L1287.8 798.4 L1288.2 800.4 L1288.6 802.4 L1289.1 804.3 L1289.5 806.3 L1290.0 808.3 L1290.5 810.2 L1291.0 812.2 L1291.5 814.1 L1292.0 816.0 L1292.6 817.9 L1293.2 819.8 L1293.8 821.7 L1294.5 823.6 L1295.2 825.4 L1295.9 827.2 L1296.7 829.0 L1297.6 830.8 L1298.4 832.5 L1299.4 834.2 L1300.3 835.9 L1301.4 837.5 L1302.6 839.1 L1304.2 840.2 L1306.4 840.6 L1307.1 838.8 L1307.9 836.9 L1308.6 835.0 L1309.4 833.1 L1310.2 831.2 L1310.9 829.3 L1311.7 827.3 L1312.5 825.4 L1313.3 823.5 L1314.2 821.5 L1315.0 819.6 L1315.9 817.7 L1316.8 815.7 L1317.7 813.8 L1318.6 811.9 L1319.5 810.0 L1320.5 808.1 L1321.5 806.3 L1322.5 804.4 L1323.6 802.6 L1324.7 800.8 L1325.8 799.1 L1326.9 797.4 L1328.1 795.7 L1329.3 794.0 L1330.6 792.4 L1331.9 790.8 L1333.2 789.3 L1334.6 787.8 L1336.0 786.4 L1337.4 785.0 L1338.9 783.6 L1340.5 782.4 L1342.1 781.1 L1343.7 780.0 L1345.4 778.9 L1347.1 777.8 L1348.9 776.9 L1350.8 776.0 L1352.7 775.2 L1354.6 774.4 L1356.7 773.7 L1358.7 773.2 L1360.9 772.7 L1363.0 772.2 L1365.3 771.9 L1367.4 746.0" stroke="#0000ff" stroke-width="4.6" fill="none" stroke-linecap="round" stroke-linejoin="round" stroke-dasharray="13.9 14.9 1.4 15.1 1.4 14.8" stroke-dashoffset="15.4"/>
<path d="M198.2 500.5 L200.2 500.4 L202.2 500.4 L204.2 500.3 L206.2 500.3 L208.2 500.2 L210.2 500.2 L212.2 500.1 L214.2 500.0 L216.2 500.0 L218.2 499.9 L220.2 499.9 L222.2 499.8 L224.2 499.7 L226.2 499.7 L228.2 499.6 L230.2 499.6 L232.2 499.5 L234.3 499.4 L236.3 499.4 L238.3 499.3 L240.3 499.3 L242.3 499.2 L244.3 499.1 L246.3 499.1 L248.3 499.0 L250.3 498.9 L252.3 498.9 L254.3 498.8 L256.3 498.8 L258.3 498.7 L260.3 498.6 L262.3 498.6 L264.3 498.5 L266.3 498.4 L268.3 498.4 L270.3 498.3 L272.3 498.2 L274.3 498.2 L276.3 498.1 L278.3 498.0 L280.3 498.0 L282.3 497.9 L284.3 497.9 L286.3 497.8 L288.3 497.7 L290.3 497.7 L292.3 497.6 L294.3 497.5 L296.4 497.5 L298.4 497.4 L300.4 497.3 L302.4 497.3 L304.4 497.2 L306.4 497.1 L308.4 497.1 L310.4 497.0 L312.4 496.9 L314.4 496.9 L316.4 496.8 L318.4 496.7 L320.4 496.7 L322.4 496.6 L324.4 496.5 L326.4 496.5 L328.4 496.4 L330.4 496.3 L332.4 496.3 L334.4 496.2 L336.4 496.1 L338.4 496.1 L340.4 496.0 L342.4 496.0 L344.4 495.9 L346.4 495.8 L348.4 495.8 L350.4 495.7 L352.5 495.6 L354.5 495.6 L356.5 495.5 L358.5 495.4 L360.5 495.4 L362.5 495.3 L364.5 495.2 L366.5 495.2 L368.5 495.1 L370.5 495.0 L372.5 495.0 L374.5 494.9 L376.5 494.9 L378.5 494.8 L380.5 494.7 L382.5 494.7 L384.5 494.6 L386.5 494.5 L388.5 494.5 L390.5 494.4 L392.5 494.4 L394.5 494.3 L396.5 494.2 L398.5 494.2 L400.5 494.1 L402.5 494.0 L404.6 494.0 L406.6 493.9 L408.6 493.9 L410.6 493.8 L412.6 493.7 L414.6 493.7 L416.6 493.6 L418.6 493.6 L420.6 493.5 L422.6 493.4 L424.6 493.4 L426.6 493.3 L428.6 493.3 L430.6 493.2 L432.6 493.2 L434.6 493.1 L436.6 493.0 L438.6 493.0 L440.6 492.9 L442.6 492.9 L444.6 492.8 L446.6 492.8 L448.6 492.7 L450.6 492.7 L452.6 492.6 L454.6 492.6 L456.7 492.5 L458.7 492.5 L460.7 492.4 L462.7 492.3 L464.7 492.3 L466.7 492.2 L468.7 492.2 L470.7 492.1 L472.7 492.1 L474.7 492.0 L476.7 492.0 L478.7 491.9 L480.7 491.9 L482.7 491.9 L484.7 491.8 L486.7 491.8 L488.7 491.7 L490.7 491.7 L492.7 491.6 L494.7 491.6 L496.7 491.5 L498.7 491.5 L500.7 491.4 L502.7 491.4 L504.7 491.4 L506.7 491.3 L508.8 491.3 L510.8 491.2 L512.8 491.2 L514.8 491.2 L516.8 491.1 L518.8 491.1 L520.8 491.0 L522.8 491.0 L524.8 491.0 L526.8 490.9 L528.8 490.9 L530.8 490.9 L532.8 490.8 L534.8 490.8 L536.8 490.8 L538.8 490.7 L540.8 490.7 L542.8 490.7 L544.8 490.6 L546.8 490.6 L548.8 490.6 L550.8 490.5 L552.8 490.5 L554.8 490.5 L556.8 490.4 L558.8 490.4 L560.8 490.4 L562.9 490.4 L564.9 490.3 L566.9 490.3 L568.9 490.3 L570.9 490.3 L572.9 490.3 L574.9 490.2 L576.9 490.2 L578.9 490.2 L580.9 490.2 L582.9 490.1 L584.9 490.1 L586.9 490.1 L588.9 490.1 L590.9 490.1 L592.9 490.1 L594.9 490.1 L596.9 490.0 L598.9 490.0 L600.9 490.0 L602.9 490.0 L604.9 490.0 L606.9 490.0 L608.9 490.0 L610.9 490.0 L612.9 489.9 L614.9 489.9 L616.9 489.9 L619.0 489.9 L621.0 489.9 L623.0 489.9 L625.0 489.9 L627.0 489.9 L629.0 489.9 L631.0 489.9 L633.0 489.9 L635.0 489.9 L637.0 489.9 L639.0 489.9 L641.0 489.8 L643.0 489.8 L645.0 489.8 L647.0 489.8 L649.0 489.8 L651.0 489.8 L653.0 489.8 L655.0 489.8 L657.0 489.8 L659.0 489.8 L661.0 489.8 L663.0 489.8 L665.0 489.8 L667.0 489.8 L669.0 489.8 L671.0 489.8 L673.0 489.8 L675.0 489.8 L677.1 489.8 L679.1 489.8 L681.1 489.8 L683.1 489.8 L685.1 489.8 L687.1 489.8 L689.1 489.8 L691.1 489.8 L693.1 489.8 L695.1 489.8 L697.1 489.8 L699.1 489.8 L701.1 489.8 L703.1 489.8 L705.1 489.8 L707.1 489.8 L709.1 489.8 L711.1 489.8 L713.1 489.8 L715.1 489.8 L717.1 489.8 L719.1 489.8 L721.1 489.8 L723.1 489.8 L725.1 489.8 L727.1 489.8 L729.2 489.8 L731.2 489.8 L733.2 489.7 L735.2 489.7 L737.2 489.7 L739.2 489.7 L741.2 489.7 L743.2 489.7 L745.2 489.7 L747.2 489.7 L749.2 489.7 L751.2 489.7 L753.2 489.7 L755.2 489.7 L757.2 489.7 L759.2 489.7 L761.2 489.6 L763.2 489.6 L765.2 489.6 L767.2 489.6 L769.2 489.6 L771.2 489.6 L773.3 489.6 L775.3 489.6 L777.3 489.5 L779.3 489.5 L781.3 489.5 L783.3 489.5 L785.3 489.5 L787.3 489.5 L789.3 489.4 L791.3 489.4 L793.3 489.4 L795.3 489.4 L797.3 489.4 L799.3 489.3 L801.3 489.3 L803.3 489.3 L805.3 489.3 L807.3 489.2 L809.4 489.2 L811.4 489.2 L813.4 489.2 L815.4 489.1 L817.4 489.1 L819.4 489.1 L821.4 489.0 L823.4 489.0 L825.4 489.0 L827.4 488.9 L829.4 488.9 L831.4 488.9 L833.4 488.8 L835.4 488.8 L837.4 488.8 L839.4 488.7 L841.5 488.7 L843.5 488.6 L845.5 488.6 L847.5 488.6 L849.5 488.5 L851.5 488.5 L853.5 488.4 L855.5 488.4 L857.5 488.3 L859.5 488.3 L861.5 488.2 L863.5 488.2 L865.5 488.1 L867.5 488.1 L869.6 488.0 L871.6 488.0 L873.6 487.9 L875.6 487.9 L877.6 487.8 L879.6 487.7 L881.6 487.7 L883.6 487.6 L885.6 487.6 L887.6 487.5 L889.6 487.5 L891.6 487.4 L893.6 487.3 L895.6 487.3 L897.6 487.2 L899.7 487.2 L901.7 487.1 L903.7 487.1 L905.7 487.0 L907.7 486.9 L909.7 486.9 L911.7 486.8 L913.7 486.8 L915.7 486.7 L917.7 486.6 L919.7 486.6 L921.7 486.5 L923.7 486.5 L925.7 486.4 L927.7 486.4 L929.7 486.3 L931.7 486.2 L933.7 486.2 L935.7 486.1 L937.7 486.1 L939.7 486.0 L941.7 486.0 L943.7 485.9 L945.8 485.8 L947.8 485.8 L949.8 485.7 L951.8 485.7 L953.8 485.6 L955.8 485.6 L957.8 485.5 L959.8 485.5 L961.8 485.4 L963.8 485.4 L965.8 485.3 L967.8 485.3 L969.8 485.2 L971.8 485.2 L973.8 485.2 L975.8 485.1 L977.8 485.1 L979.7 485.0 L981.7 485.0 L983.7 485.0 L985.7 484.9 L987.7 484.9 L989.7 484.8 L991.7 484.8 L993.7 484.8 L995.7 484.8 L997.7 484.7 L999.7 484.7 L1001.7 484.7 L1003.7 484.6 L1005.7 484.6 L1007.7 484.6 L1009.7 484.6 L1011.7 484.6 L1013.7 484.6 L1015.7 484.5 L1017.7 484.5 L1019.7 484.5 L1021.7 484.5 L1023.7 484.5 L1025.7 484.5 L1027.7 484.5 L1029.7 484.5 L1031.7 484.5 L1033.7 484.5 L1035.7 484.5 L1037.7 484.5 L1039.7 484.5 L1041.7 484.5 L1043.7 484.6 L1045.7 484.6 L1047.7 484.6 L1049.7 484.6 L1051.7 484.7 L1053.7 484.7 L1055.7 484.7 L1057.7 484.7 L1059.7 484.8 L1061.7 484.8 L1063.7 484.9 L1065.7 484.9 L1067.7 485.0 L1069.7 485.0 L1071.7 485.1 L1073.7 485.1 L1075.7 485.2 L1077.7 485.2 L1079.7 485.3 L1081.7 485.4 L1083.7 485.5 L1085.7 485.5 L1087.7 485.6 L1089.8 485.7 L1091.8 485.8 L1093.8 485.9 L1095.8 486.0 L1097.8 486.1 L1099.8 486.2 L1101.8 486.3 L1103.8 486.4 L1105.8 486.5 L1107.9 486.6 L1109.9 486.7 L1111.9 486.8 L1113.9 487.0 L1115.9 487.1 L1117.9 487.2 L1119.9 487.4 L1122.0 487.5 L1124.0 487.7 L1126.0 487.8 L1128.0 488.0 L1130.0 488.2 L1132.1 488.3 L1134.1 488.5 L1136.1 488.7 L1138.1 489.0 L1140.1 489.2 L1142.1 489.4 L1144.1 489.7 L1146.1 489.9 L1148.1 490.2 L1150.1 490.5 L1152.1 490.8 L1154.1 491.2 L1156.0 491.5 L1158.0 491.9 L1160.0 492.3 L1161.9 492.7 L1163.9 493.1 L1165.9 493.6 L1167.8 494.1 L1169.7 494.6 L1171.7 495.1 L1173.6 495.6 L1175.5 496.2 L1177.4 496.8 L1179.3 497.5 L1181.2 498.1 L1183.1 498.8 L1185.0 499.5 L1186.9 500.3 L1188.7 501.1 L1190.5 501.9 L1192.4 502.7 L1194.2 503.6 L1196.0 504.5 L1197.7 505.4 L1199.5 506.4 L1201.2 507.3 L1203.0 508.4 L1204.7 509.4 L1206.3 510.5 L1208.0 511.6 L1209.6 512.7 L1211.2 513.9 L1212.8 515.0 L1214.4 516.3 L1215.9 517.5 L1217.4 518.8 L1218.9 520.1 L1220.3 521.4 L1221.8 522.8 L1223.2 524.2 L1224.6 525.6 L1225.9 527.0 L1227.3 528.4 L1228.6 529.9 L1229.9 531.4 L1231.1 532.9 L1232.4 534.5 L1233.6 536.1 L1234.8 537.6 L1236.0 539.2 L1237.2 540.9 L1238.3 542.5 L1239.5 544.1 L1240.6 545.8 L1241.7 547.5 L1242.7 549.2 L1243.8 550.9 L1244.9 552.7 L1245.9 554.4 L1246.9 556.2 L1247.9 557.9 L1248.9 559.7 L1249.8 561.5 L1250.8 563.3 L1251.7 565.1 L1252.6 566.9 L1253.5 568.7 L1254.4 570.6 L1255.3 572.4 L1256.2 574.3 L1257.0 576.1 L1257.9 578.0 L1258.7 579.8 L1259.5 581.7 L1260.4 583.6 L1261.2 585.4 L1262.0 587.3 L1262.7 589.2 L1263.5 591.0 L1264.3 592.9 L1265.0 594.8 L1265.8 596.6 L1266.5 598.5 L1267.3 600.4 L1268.0 602.3 L1268.7 604.1 L1269.4 606.0 L1270.1 607.9 L1270.8 609.8 L1271.5 611.7 L1272.2 613.5 L1272.8 615.4 L1273.5 617.3 L1274.1 619.2 L1274.8 621.1 L1275.4 623.0 L1276.0 624.9 L1276.7 626.8 L1277.3 628.6 L1277.9 630.5 L1278.5 632.4 L1279.1 634.3 L1279.7 636.2 L1280.2 638.1 L1280.8 640.0 L1281.4 642.0 L1281.9 643.9 L1282.5 645.8 L1283.0 647.7 L1283.5 649.6 L1284.1 651.5 L1284.6 653.4 L1285.1 655.4 L1285.6 657.3 L1286.1 659.2 L1286.6 661.1 L1287.1 663.1 L1287.6 665.0 L1288.1 666.9 L1288.5 668.9 L1289.0 670.8 L1289.5 672.8 L1289.9 674.7 L1290.4 676.6 L1290.8 678.6 L1291.3 680.6 L1291.7 682.5 L1292.1 684.5 L1292.6 686.4 L1293.0 688.4 L1293.4 690.3 L1293.9 692.3 L1294.3 694.3 L1294.7 696.2 L1295.1 698.2 L1295.6 700.2 L1296.0 702.1 L1296.4 704.1 L1296.9 706.0 L1297.3 708.0 L1297.7 710.0 L1298.2 711.9 L1298.6 713.9 L1299.0 715.8 L1299.5 717.8 L1299.9 719.8 L1300.4 721.7 L1300.9 723.7 L1301.3 725.6 L1301.8 727.6 L1302.3 729.5 L1302.8 731.5 L1303.3 733.4 L1303.8 735.4 L1304.3 737.3 L1304.8 739.2 L1305.4 741.2 L1305.9 743.1 L1306.5 745.0 L1307.0 746.9 L1307.6 748.9 L1308.2 750.8 L1308.7 752.7 L1309.3 754.6 L1309.9 756.5 L1310.5 758.4 L1311.1 760.4 L1311.7 762.3 L1312.3 764.2 L1312.9 766.1 L1313.5 768.0 L1314.1 769.9 L1314.7 771.8 L1315.3 773.7 L1316.0 775.6 L1316.6 777.5 L1317.2 779.4 L1317.8 781.3 L1318.4 783.3 L1319.0 785.2 L1319.6 787.1 L1320.2 789.0 L1320.8 790.9 L1321.5 792.8 L1322.1 794.7 L1322.7 796.6 L1323.3 798.5 L1323.9 800.4 L1324.5 802.3 L1325.1 804.2 L1325.7 806.2 L1326.3 808.1 L1326.9 810.0 L1327.5 811.9 L1328.1 813.8 L1328.7 815.7 L1329.3 817.6 L1329.9 819.6 L1330.5 821.5 L1331.1 823.4 L1331.7 825.3 L1332.2 827.2 L1332.8 829.1 L1333.4 831.1 L1334.0 833.0 L1334.5 834.9 L1335.1 836.8 L1335.7 838.7 L1336.2 840.7 L1336.8 842.6 L1338.8 841.7 L1340.5 840.5 L1342.1 839.3 L1343.4 837.8 L1344.6 836.3 L1345.7 834.6 L1346.6 832.8 L1347.5 830.9 L1348.3 829.0 L1349.0 827.0 L1349.6 825.0 L1350.3 822.9 L1351.0 820.9 L1351.7 818.8 L1352.4 816.8 L1353.2 814.9 L1354.1 812.9 L1355.0 811.0 L1355.9 809.1 L1356.9 807.3 L1357.8 805.4 L1358.8 803.6 L1359.7 801.7 L1360.7 799.9 L1361.6 798.0 L1362.5 796.2 L1363.3 794.3 L1364.1 792.4 L1364.8 790.5 L1365.5 788.5 L1366.1 786.6 L1366.5 784.6 L1366.9 782.5 L1367.2 780.4 L1367.4 778.2 L1367.4 776.0 L1368.4 731.0" stroke="#ff0000" stroke-width="4.6" fill="none" stroke-linecap="round" stroke-linejoin="round" stroke-dasharray="10.9 10.5 0 10.4" stroke-dashoffset="8.05"/>
<path d="M198.2 499.3 L200.2 499.2 L202.2 499.2 L204.2 499.1 L206.2 499.1 L208.2 499.0 L210.2 499.0 L212.2 498.9 L214.2 498.8 L216.2 498.8 L218.2 498.7 L220.2 498.6 L222.2 498.6 L224.2 498.5 L226.2 498.5 L228.2 498.4 L230.2 498.3 L232.2 498.3 L234.2 498.2 L236.2 498.1 L238.2 498.0 L240.2 498.0 L242.2 497.9 L244.3 497.8 L246.3 497.8 L248.3 497.7 L250.3 497.6 L252.3 497.5 L254.3 497.5 L256.3 497.4 L258.3 497.3 L260.3 497.2 L262.3 497.2 L264.3 497.1 L266.3 497.0 L268.3 496.9 L270.3 496.8 L272.3 496.8 L274.3 496.7 L276.3 496.6 L278.3 496.5 L280.3 496.4 L282.3 496.4 L284.3 496.3 L286.3 496.2 L288.3 496.1 L290.3 496.0 L292.3 495.9 L294.3 495.9 L296.3 495.8 L298.3 495.7 L300.3 495.6 L302.3 495.5 L304.3 495.4 L306.3 495.4 L308.3 495.3 L310.3 495.2 L312.3 495.1 L314.3 495.0 L316.3 494.9 L318.3 494.8 L320.3 494.8 L322.3 494.7 L324.3 494.6 L326.3 494.5 L328.3 494.4 L330.3 494.3 L332.3 494.2 L334.3 494.1 L336.3 494.1 L338.3 494.0 L340.3 493.9 L342.3 493.8 L344.3 493.7 L346.3 493.6 L348.3 493.5 L350.3 493.5 L352.3 493.4 L354.4 493.3 L356.4 493.2 L358.4 493.1 L360.4 493.0 L362.4 492.9 L364.4 492.9 L366.4 492.8 L368.4 492.7 L370.4 492.6 L372.4 492.5 L374.4 492.4 L376.4 492.4 L378.4 492.3 L380.4 492.2 L382.4 492.1 L384.4 492.0 L386.4 491.9 L388.4 491.9 L390.4 491.8 L392.4 491.7 L394.4 491.6 L396.4 491.5 L398.4 491.5 L400.4 491.4 L402.4 491.3 L404.4 491.2 L406.4 491.1 L408.4 491.1 L410.4 491.0 L412.4 490.9 L414.4 490.8 L416.4 490.8 L418.4 490.7 L420.4 490.6 L422.4 490.5 L424.4 490.5 L426.4 490.4 L428.4 490.3 L430.4 490.3 L432.4 490.2 L434.4 490.1 L436.4 490.1 L438.4 490.0 L440.4 489.9 L442.4 489.9 L444.4 489.8 L446.4 489.7 L448.4 489.7 L450.4 489.6 L452.4 489.5 L454.4 489.5 L456.4 489.4 L458.5 489.4 L460.5 489.3 L462.5 489.2 L464.5 489.2 L466.5 489.1 L468.5 489.1 L470.5 489.0 L472.5 489.0 L474.5 488.9 L476.5 488.9 L478.5 488.8 L480.5 488.8 L482.5 488.7 L484.5 488.7 L486.5 488.6 L488.5 488.6 L490.5 488.5 L492.5 488.5 L494.5 488.5 L496.5 488.4 L498.5 488.4 L500.5 488.3 L502.5 488.3 L504.5 488.3 L506.5 488.2 L508.5 488.2 L510.5 488.2 L512.5 488.1 L514.5 488.1 L516.5 488.1 L518.5 488.0 L520.5 488.0 L522.5 488.0 L524.5 487.9 L526.5 487.9 L528.5 487.9 L530.6 487.9 L532.6 487.8 L534.6 487.8 L536.6 487.8 L538.6 487.8 L540.6 487.8 L542.6 487.7 L544.6 487.7 L546.6 487.7 L548.6 487.7 L550.6 487.7 L552.6 487.6 L554.6 487.6 L556.6 487.6 L558.6 487.6 L560.6 487.6 L562.6 487.6 L564.6 487.5 L566.6 487.5 L568.6 487.5 L570.6 487.5 L572.6 487.5 L574.6 487.5 L576.6 487.5 L578.6 487.4 L580.6 487.4 L582.6 487.4 L584.6 487.4 L586.6 487.4 L588.6 487.4 L590.6 487.4 L592.7 487.4 L594.7 487.4 L596.7 487.4 L598.7 487.3 L600.7 487.3 L602.7 487.3 L604.7 487.3 L606.7 487.3 L608.7 487.3 L610.7 487.3 L612.7 487.3 L614.7 487.3 L616.7 487.3 L618.7 487.3 L620.7 487.3 L622.7 487.3 L624.7 487.2 L626.7 487.2 L628.7 487.2 L630.7 487.2 L632.7 487.2 L634.7 487.2 L636.7 487.2 L638.7 487.2 L640.7 487.2 L642.7 487.2 L644.7 487.2 L646.7 487.2 L648.7 487.2 L650.8 487.2 L652.8 487.1 L654.8 487.1 L656.8 487.1 L658.8 487.1 L660.8 487.1 L662.8 487.1 L664.8 487.1 L666.8 487.1 L668.8 487.1 L670.8 487.1 L672.8 487.1 L674.8 487.0 L676.8 487.0 L678.8 487.0 L680.8 487.0 L682.8 487.0 L684.8 487.0 L686.8 487.0 L688.8 487.0 L690.8 487.0 L692.8 486.9 L694.8 486.9 L696.8 486.9 L698.8 486.9 L700.8 486.9 L702.8 486.9 L704.8 486.9 L706.8 486.8 L708.8 486.8 L710.9 486.8 L712.9 486.8 L714.9 486.8 L716.9 486.7 L718.9 486.7 L720.9 486.7 L722.9 486.7 L724.9 486.7 L726.9 486.6 L728.9 486.6 L730.9 486.6 L732.9 486.6 L734.9 486.5 L736.9 486.5 L738.9 486.5 L740.9 486.4 L742.9 486.4 L744.9 486.4 L746.9 486.4 L748.9 486.3 L750.9 486.3 L752.9 486.3 L754.9 486.2 L756.9 486.2 L758.9 486.2 L760.9 486.1 L762.9 486.1 L764.9 486.0 L766.9 486.0 L768.9 486.0 L770.9 485.9 L772.9 485.9 L774.9 485.8 L776.9 485.8 L778.9 485.7 L780.9 485.7 L782.9 485.6 L784.9 485.6 L787.0 485.5 L789.0 485.5 L791.0 485.4 L793.0 485.4 L795.0 485.3 L797.0 485.3 L799.0 485.2 L801.0 485.2 L803.0 485.1 L805.0 485.0 L807.0 485.0 L809.0 484.9 L811.0 484.8 L813.0 484.8 L815.0 484.7 L817.0 484.6 L819.0 484.6 L821.0 484.5 L823.0 484.4 L825.0 484.4 L827.0 484.3 L829.0 484.2 L831.0 484.2 L833.0 484.1 L835.0 484.0 L837.0 483.9 L839.0 483.9 L841.0 483.8 L843.0 483.7 L845.0 483.7 L847.0 483.6 L849.0 483.5 L851.0 483.4 L853.0 483.4 L855.0 483.3 L857.0 483.2 L859.0 483.1 L861.0 483.0 L863.0 483.0 L865.0 482.9 L867.0 482.8 L869.0 482.7 L871.0 482.7 L873.0 482.6 L875.0 482.5 L877.0 482.4 L879.0 482.3 L881.0 482.3 L883.0 482.2 L885.0 482.1 L887.0 482.0 L889.0 482.0 L891.0 481.9 L893.0 481.8 L895.0 481.7 L897.0 481.7 L899.1 481.6 L901.1 481.5 L903.1 481.4 L905.1 481.4 L907.1 481.3 L909.1 481.2 L911.1 481.1 L913.1 481.1 L915.1 481.0 L917.1 480.9 L919.1 480.8 L921.1 480.8 L923.1 480.7 L925.1 480.6 L927.1 480.6 L929.1 480.5 L931.1 480.4 L933.1 480.4 L935.1 480.3 L937.1 480.2 L939.1 480.2 L941.1 480.1 L943.1 480.0 L945.1 480.0 L947.1 479.9 L949.1 479.9 L951.1 479.8 L953.1 479.8 L955.1 479.7 L957.1 479.6 L959.1 479.6 L961.1 479.5 L963.1 479.5 L965.1 479.4 L967.1 479.4 L969.1 479.3 L971.1 479.3 L973.1 479.2 L975.2 479.2 L977.2 479.2 L979.2 479.1 L981.2 479.1 L983.2 479.0 L985.2 479.0 L987.2 479.0 L989.2 478.9 L991.2 478.9 L993.2 478.9 L995.2 478.9 L997.2 478.8 L999.2 478.8 L1001.2 478.8 L1003.2 478.8 L1005.2 478.7 L1007.2 478.7 L1009.2 478.7 L1011.2 478.7 L1013.2 478.7 L1015.2 478.7 L1017.2 478.7 L1019.2 478.7 L1021.2 478.7 L1023.2 478.6 L1025.2 478.6 L1027.3 478.6 L1029.3 478.7 L1031.3 478.7 L1033.3 478.7 L1035.3 478.7 L1037.3 478.7 L1039.3 478.7 L1041.3 478.7 L1043.3 478.7 L1045.3 478.8 L1047.3 478.8 L1049.3 478.8 L1051.3 478.8 L1053.3 478.9 L1055.3 478.9 L1057.3 478.9 L1059.3 479.0 L1061.3 479.0 L1063.3 479.1 L1065.3 479.1 L1067.3 479.2 L1069.3 479.2 L1071.3 479.3 L1073.3 479.3 L1075.3 479.4 L1077.3 479.4 L1079.3 479.5 L1081.3 479.6 L1083.3 479.6 L1085.3 479.7 L1087.3 479.8 L1089.3 479.9 L1091.3 479.9 L1093.4 480.0 L1095.4 480.1 L1097.4 480.2 L1099.4 480.3 L1101.4 480.4 L1103.4 480.5 L1105.4 480.6 L1107.4 480.7 L1109.4 480.8 L1111.4 480.9 L1113.4 481.0 L1115.4 481.2 L1117.4 481.3 L1119.4 481.4 L1121.4 481.5 L1123.4 481.7 L1125.4 481.8 L1127.4 481.9 L1129.4 482.1 L1131.4 482.2 L1133.4 482.4 L1135.4 482.5 L1137.4 482.7 L1139.4 482.8 L1141.4 483.0 L1143.4 483.2 L1145.4 483.3 L1147.4 483.5 L1149.4 483.7 L1151.4 483.9 L1153.3 484.1 L1155.3 484.2 L1157.3 484.4 L1159.3 484.6 L1161.3 484.8 L1163.3 485.0 L1165.3 485.3 L1167.3 485.5 L1169.3 485.7 L1171.3 485.9 L1173.3 486.2 L1175.3 486.5 L1177.3 486.7 L1179.2 487.0 L1181.2 487.3 L1183.2 487.7 L1185.1 488.0 L1187.1 488.4 L1189.0 488.8 L1191.0 489.2 L1192.9 489.6 L1194.9 490.1 L1196.8 490.6 L1198.7 491.1 L1200.6 491.6 L1202.5 492.2 L1204.4 492.8 L1206.3 493.4 L1208.2 494.1 L1210.0 494.8 L1211.9 495.6 L1213.7 496.3 L1215.5 497.2 L1217.3 498.0 L1219.1 498.9 L1220.9 499.9 L1222.7 500.8 L1224.5 501.9 L1226.2 502.9 L1227.9 504.0 L1229.6 505.2 L1231.3 506.4 L1233.0 507.6 L1234.6 508.8 L1236.2 510.1 L1237.8 511.4 L1239.3 512.7 L1240.8 514.1 L1242.3 515.5 L1243.8 517.0 L1245.2 518.4 L1246.6 519.9 L1247.9 521.4 L1249.2 522.9 L1250.5 524.5 L1251.7 526.1 L1253.0 527.7 L1254.2 529.3 L1255.3 530.9 L1256.5 532.6 L1257.6 534.2 L1258.7 535.9 L1259.7 537.6 L1260.8 539.3 L1261.8 541.0 L1262.8 542.8 L1263.8 544.5 L1264.8 546.2 L1265.8 548.0 L1266.7 549.7 L1267.7 551.5 L1268.6 553.3 L1269.5 555.1 L1270.4 556.8 L1271.3 558.6 L1272.2 560.4 L1273.0 562.2 L1273.9 564.0 L1274.7 565.8 L1275.5 567.6 L1276.3 569.5 L1277.1 571.3 L1277.9 573.1 L1278.7 575.0 L1279.5 576.8 L1280.2 578.6 L1281.0 580.5 L1281.7 582.3 L1282.4 584.2 L1283.2 586.1 L1283.9 587.9 L1284.6 589.8 L1285.3 591.7 L1285.9 593.6 L1286.6 595.4 L1287.3 597.3 L1287.9 599.2 L1288.6 601.1 L1289.2 603.0 L1289.9 604.9 L1290.5 606.8 L1291.1 608.7 L1291.7 610.6 L1292.3 612.5 L1293.0 614.4 L1293.6 616.3 L1294.1 618.3 L1294.7 620.2 L1295.3 622.1 L1295.9 624.0 L1296.5 625.9 L1297.1 627.9 L1297.6 629.8 L1298.2 631.7 L1298.7 633.7 L1299.3 635.6 L1299.9 637.5 L1300.4 639.5 L1301.0 641.4 L1301.5 643.3 L1302.1 645.3 L1302.6 647.2 L1303.2 649.1 L1303.7 651.1 L1304.2 653.0 L1304.8 654.9 L1305.3 656.9 L1305.9 658.8 L1306.4 660.7 L1307.0 662.7 L1307.5 664.6 L1308.1 666.5 L1308.6 668.5 L1309.1 670.4 L1309.7 672.3 L1310.3 674.3 L1310.8 676.2 L1311.4 678.1 L1311.9 680.0 L1312.5 682.0 L1313.0 683.9 L1313.6 685.8 L1314.2 687.7 L1314.7 689.6 L1315.3 691.6 L1315.9 693.5 L1316.4 695.4 L1317.0 697.3 L1317.6 699.2 L1318.1 701.2 L1318.7 703.1 L1319.3 705.0 L1319.8 706.9 L1320.4 708.8 L1321.0 710.7 L1321.6 712.6 L1322.2 714.6 L1322.7 716.5 L1323.3 718.4 L1323.9 720.3 L1324.5 722.2 L1325.1 724.1 L1325.6 726.0 L1326.2 727.9 L1326.8 729.9 L1327.4 731.8 L1328.0 733.7 L1328.6 735.6 L1329.1 737.5 L1329.7 739.4 L1330.3 741.3 L1330.9 743.2 L1331.5 745.1 L1332.1 747.1 L1332.6 749.0 L1333.2 750.9 L1333.8 752.8 L1334.4 754.7 L1335.0 756.6 L1335.6 758.5 L1336.2 760.5 L1336.8 762.4 L1337.3 764.3 L1337.9 766.2 L1338.5 768.1 L1339.1 770.0 L1339.7 772.0 L1340.3 773.9 L1340.9 775.8 L1341.4 777.7 L1342.0 779.6 L1342.6 781.5 L1343.2 783.4 L1343.8 785.4 L1344.4 787.3 L1345.1 789.2 L1345.7 791.1 L1346.3 793.0 L1346.9 794.9 L1347.6 796.8 L1348.2 798.7 L1348.9 800.6 L1349.6 802.5 L1350.2 804.4 L1350.9 806.2 L1351.6 808.1 L1352.4 810.0 L1353.1 811.9 L1353.8 813.7 L1354.6 815.6 L1355.3 817.4 L1356.1 819.3 L1356.9 821.1 L1357.7 822.9 L1358.5 824.8 L1359.4 826.6 L1360.2 828.4 L1361.0 830.3 L1361.7 832.1 L1362.5 834.0 L1363.1 835.9 L1363.8 837.8 L1364.4 839.7 L1364.9 841.6 L1365.3 843.6 L1366.2 817.0 L1368.2 775.0" stroke="#000000" stroke-width="4.6" fill="none" stroke-linecap="round" stroke-linejoin="round"/>
</g>
<path d="M147 41.0 H1380.0 V433.0" stroke="#000" stroke-width="6.2" fill="none" stroke-linecap="round" stroke-linejoin="miter"/>
<line x1="178.3" y1="38.0" x2="178.3" y2="436.0" stroke="#000" stroke-width="6.2"/>
<line x1="147" y1="433.0" x2="324.5" y2="433.0" stroke="#000" stroke-width="6.2" stroke-linecap="round"/>
<line x1="1225" y1="433.0" x2="1381.5" y2="433.0" stroke="#000" stroke-width="6.2" stroke-linecap="round"/>
<line x1="168.4" y1="454.5" x2="324.5" y2="454.5" stroke="#000" stroke-width="6.2" stroke-linecap="round"/>
<line x1="1223" y1="454.5" x2="1381" y2="454.5" stroke="#000" stroke-width="6.2" stroke-linecap="round"/>
<line x1="178.3" y1="451.5" x2="178.3" y2="850.0" stroke="#000" stroke-width="6.2"/>
<line x1="1380.0" y1="454.5" x2="1380.0" y2="878.3" stroke="#000" stroke-width="6.2" stroke-linecap="round"/>
<line x1="147.7" y1="847.0" x2="1380.0" y2="847.0" stroke="#000" stroke-width="6.2" stroke-linecap="round"/>
<path d="M147.5 41.0 H178.3 M147.5 119.4 H178.3 M147.5 197.8 H178.3 M147.5 276.2 H178.3 M147.5 354.6 H178.3 M147.5 433.0 H178.3 M163 80.2 H178.3 M163 158.6 H178.3 M163 237.0 H178.3 M163 315.4 H178.3 M163 393.8 H178.3 M147.5 472.8 H178.3 M147.5 566.4 H178.3 M147.5 659.9 H178.3 M147.5 753.5 H178.3 M147.5 847.0 H178.3 M163 519.6 H178.3 M163 613.1 H178.3 M163 706.7 H178.3 M163 800.2 H178.3 M191.9 847.0 V863 M220.2 847.0 V863 M248.5 847.0 V878.3 M276.8 847.0 V863 M305.1 847.0 V863 M333.4 847.0 V863 M361.7 847.0 V863 M390.0 847.0 V878.3 M418.3 847.0 V863 M446.6 847.0 V863 M474.9 847.0 V863 M503.2 847.0 V863 M531.5 847.0 V878.3 M559.8 847.0 V863 M588.1 847.0 V863 M616.4 847.0 V863 M644.7 847.0 V863 M673.0 847.0 V878.3 M701.3 847.0 V863 M729.6 847.0 V863 M757.9 847.0 V863 M786.2 847.0 V863 M814.5 847.0 V878.3 M842.8 847.0 V863 M871.1 847.0 V863 M899.4 847.0 V863 M927.7 847.0 V863 M956.0 847.0 V878.3 M984.3 847.0 V863 M1012.6 847.0 V863 M1040.9 847.0 V863 M1069.2 847.0 V863 M1097.5 847.0 V878.3 M1125.8 847.0 V863 M1154.1 847.0 V863 M1182.4 847.0 V863 M1210.7 847.0 V863 M1239.0 847.0 V878.3 M1267.3 847.0 V863 M1295.6 847.0 V863 M1323.9 847.0 V863 M1352.2 847.0 V863" stroke="#000" stroke-width="5.4" fill="none" stroke-linecap="round"/>
<g font-family="Liberation Sans, sans-serif" font-weight="bold" font-size="42" fill="#000"><text transform="translate(125.7 53.3) scale(0.975 1.05)" text-anchor="end">50</text><text transform="translate(125.7 131.7) scale(0.975 1.05)" text-anchor="end">40</text><text transform="translate(125.7 210.1) scale(0.975 1.05)" text-anchor="end">30</text><text transform="translate(125.7 288.5) scale(0.975 1.05)" text-anchor="end">20</text><text transform="translate(125.7 366.9) scale(0.975 1.05)" text-anchor="end">10</text><text transform="translate(125.7 445.3) scale(0.975 1.05)" text-anchor="end">0</text><text transform="translate(125.7 484.6) scale(0.975 1.05)" text-anchor="end">4</text><text transform="translate(125.7 578.1) scale(0.975 1.05)" text-anchor="end">3</text><text transform="translate(125.7 671.7) scale(0.975 1.05)" text-anchor="end">2</text><text transform="translate(125.7 765.2) scale(0.975 1.05)" text-anchor="end">1</text><text transform="translate(125.7 858.8) scale(0.975 1.05)" text-anchor="end">0</text><text transform="translate(247.5 932.4) scale(0.975 1.05)" text-anchor="middle">0.1</text><text transform="translate(389.0 932.4) scale(0.975 1.05)" text-anchor="middle">0.2</text><text transform="translate(530.5 932.4) scale(0.975 1.05)" text-anchor="middle">0.3</text><text transform="translate(672.0 932.4) scale(0.975 1.05)" text-anchor="middle">0.4</text><text transform="translate(813.5 932.4) scale(0.975 1.05)" text-anchor="middle">0.5</text><text transform="translate(955.0 932.4) scale(0.975 1.05)" text-anchor="middle">0.6</text><text transform="translate(1096.5 932.4) scale(0.975 1.05)" text-anchor="middle">0.7</text><text transform="translate(1238.0 932.4) scale(0.975 1.05)" text-anchor="middle">0.8</text><text transform="translate(1379.5 932.4) scale(0.975 1.05)" text-anchor="middle">0.9</text></g>
<text font-family="Liberation Sans, sans-serif" font-weight="bold" font-size="52" fill="#000" transform="translate(48.3 414.0) rotate(-90) scale(0.97 1)">HO</text>
<text font-family="Liberation Sans, sans-serif" font-weight="bold" font-size="31" fill="#000" transform="translate(68.2 338.8) rotate(-90) scale(1.02 1)">2</text>
<text font-family="Liberation Sans, sans-serif" font-weight="bold" font-size="29" fill="#000" transform="translate(20.5 320.5) rotate(-90) scale(1.0 1)">-</text>
<text font-family="Liberation Sans, sans-serif" font-weight="bold" font-size="51" fill="#000" transform="translate(48.7 310.1) rotate(-90) scale(0.9 1)">%</text>
<text font-family="Liberation Sans, sans-serif" font-weight="bold" font-size="50" fill="#000" transform="translate(48.0 266.8) rotate(-90) scale(1.018 1)">(mol/mol)</text>
<text font-family="Liberation Sans, sans-serif" font-weight="bold" font-size="50" fill="#000" transform="translate(41.2 697.2) rotate(-90) scale(1.0 1)" font-style="italic">n</text>
<text font-family="Liberation Sans, sans-serif" font-weight="bold" font-size="50" fill="#000" transform="translate(661.3 998.8) scale(0.993 1)">E <tspan font-style="italic">vs.</tspan> RHE/V</text>
<line x1="636" y1="99.3" x2="650.7" y2="99.3" stroke="#808080" stroke-width="4.6" stroke-linecap="round"/><line x1="675.3" y1="99.3" x2="690.5" y2="99.3" stroke="#808080" stroke-width="4.6" stroke-linecap="round"/><line x1="636" y1="145.0" x2="710" y2="145.0" stroke="#0000ff" stroke-width="4.6" stroke-linecap="round" stroke-dasharray="13 15.8 0 16 0 15.8"/><line x1="636" y1="189.6" x2="710" y2="189.6" stroke="#ff0000" stroke-width="4.6" stroke-linecap="round" stroke-dasharray="10.7 10.3 0 10.5"/><line x1="636" y1="234.9" x2="714.5" y2="234.9" stroke="#000000" stroke-width="4.6" stroke-linecap="round"/><g font-family="Liberation Sans, sans-serif" font-weight="bold" font-size="33.4" fill="#000"><text transform="translate(725.2 111.4) scale(1.048 1)">As-prepared</text><text transform="translate(725.2 155.8) scale(1.048 1)">250 &#176;C</text><text transform="translate(725.2 200.8) scale(1.048 1)">300 &#176;C</text><text transform="translate(725.2 245.7) scale(1.048 1)">400 &#176;C</text></g>
<line x1="636" y1="566.9" x2="650.7" y2="566.9" stroke="#808080" stroke-width="4.6" stroke-linecap="round"/><line x1="675.3" y1="566.9" x2="690.5" y2="566.9" stroke="#808080" stroke-width="4.6" stroke-linecap="round"/><line x1="636" y1="612.6" x2="710" y2="612.6" stroke="#0000ff" stroke-width="4.6" stroke-linecap="round" stroke-dasharray="13 15.8 0 16 0 15.8"/><line x1="636" y1="657.2" x2="710" y2="657.2" stroke="#ff0000" stroke-width="4.6" stroke-linecap="round" stroke-dasharray="10.7 10.3 0 10.5"/><line x1="636" y1="702.5" x2="714.5" y2="702.5" stroke="#000000" stroke-width="4.6" stroke-linecap="round"/><g font-family="Liberation Sans, sans-serif" font-weight="bold" font-size="33.4" fill="#000"><text transform="translate(725.2 579.0) scale(1.048 1)">As-prepared</text><text transform="translate(725.2 623.4) scale(1.048 1)">250 &#176;C</text><text transform="translate(725.2 668.4) scale(1.048 1)">300 &#176;C</text><text transform="translate(725.2 713.3) scale(1.048 1)">400 &#176;C</text></g></svg>
</body></html>
